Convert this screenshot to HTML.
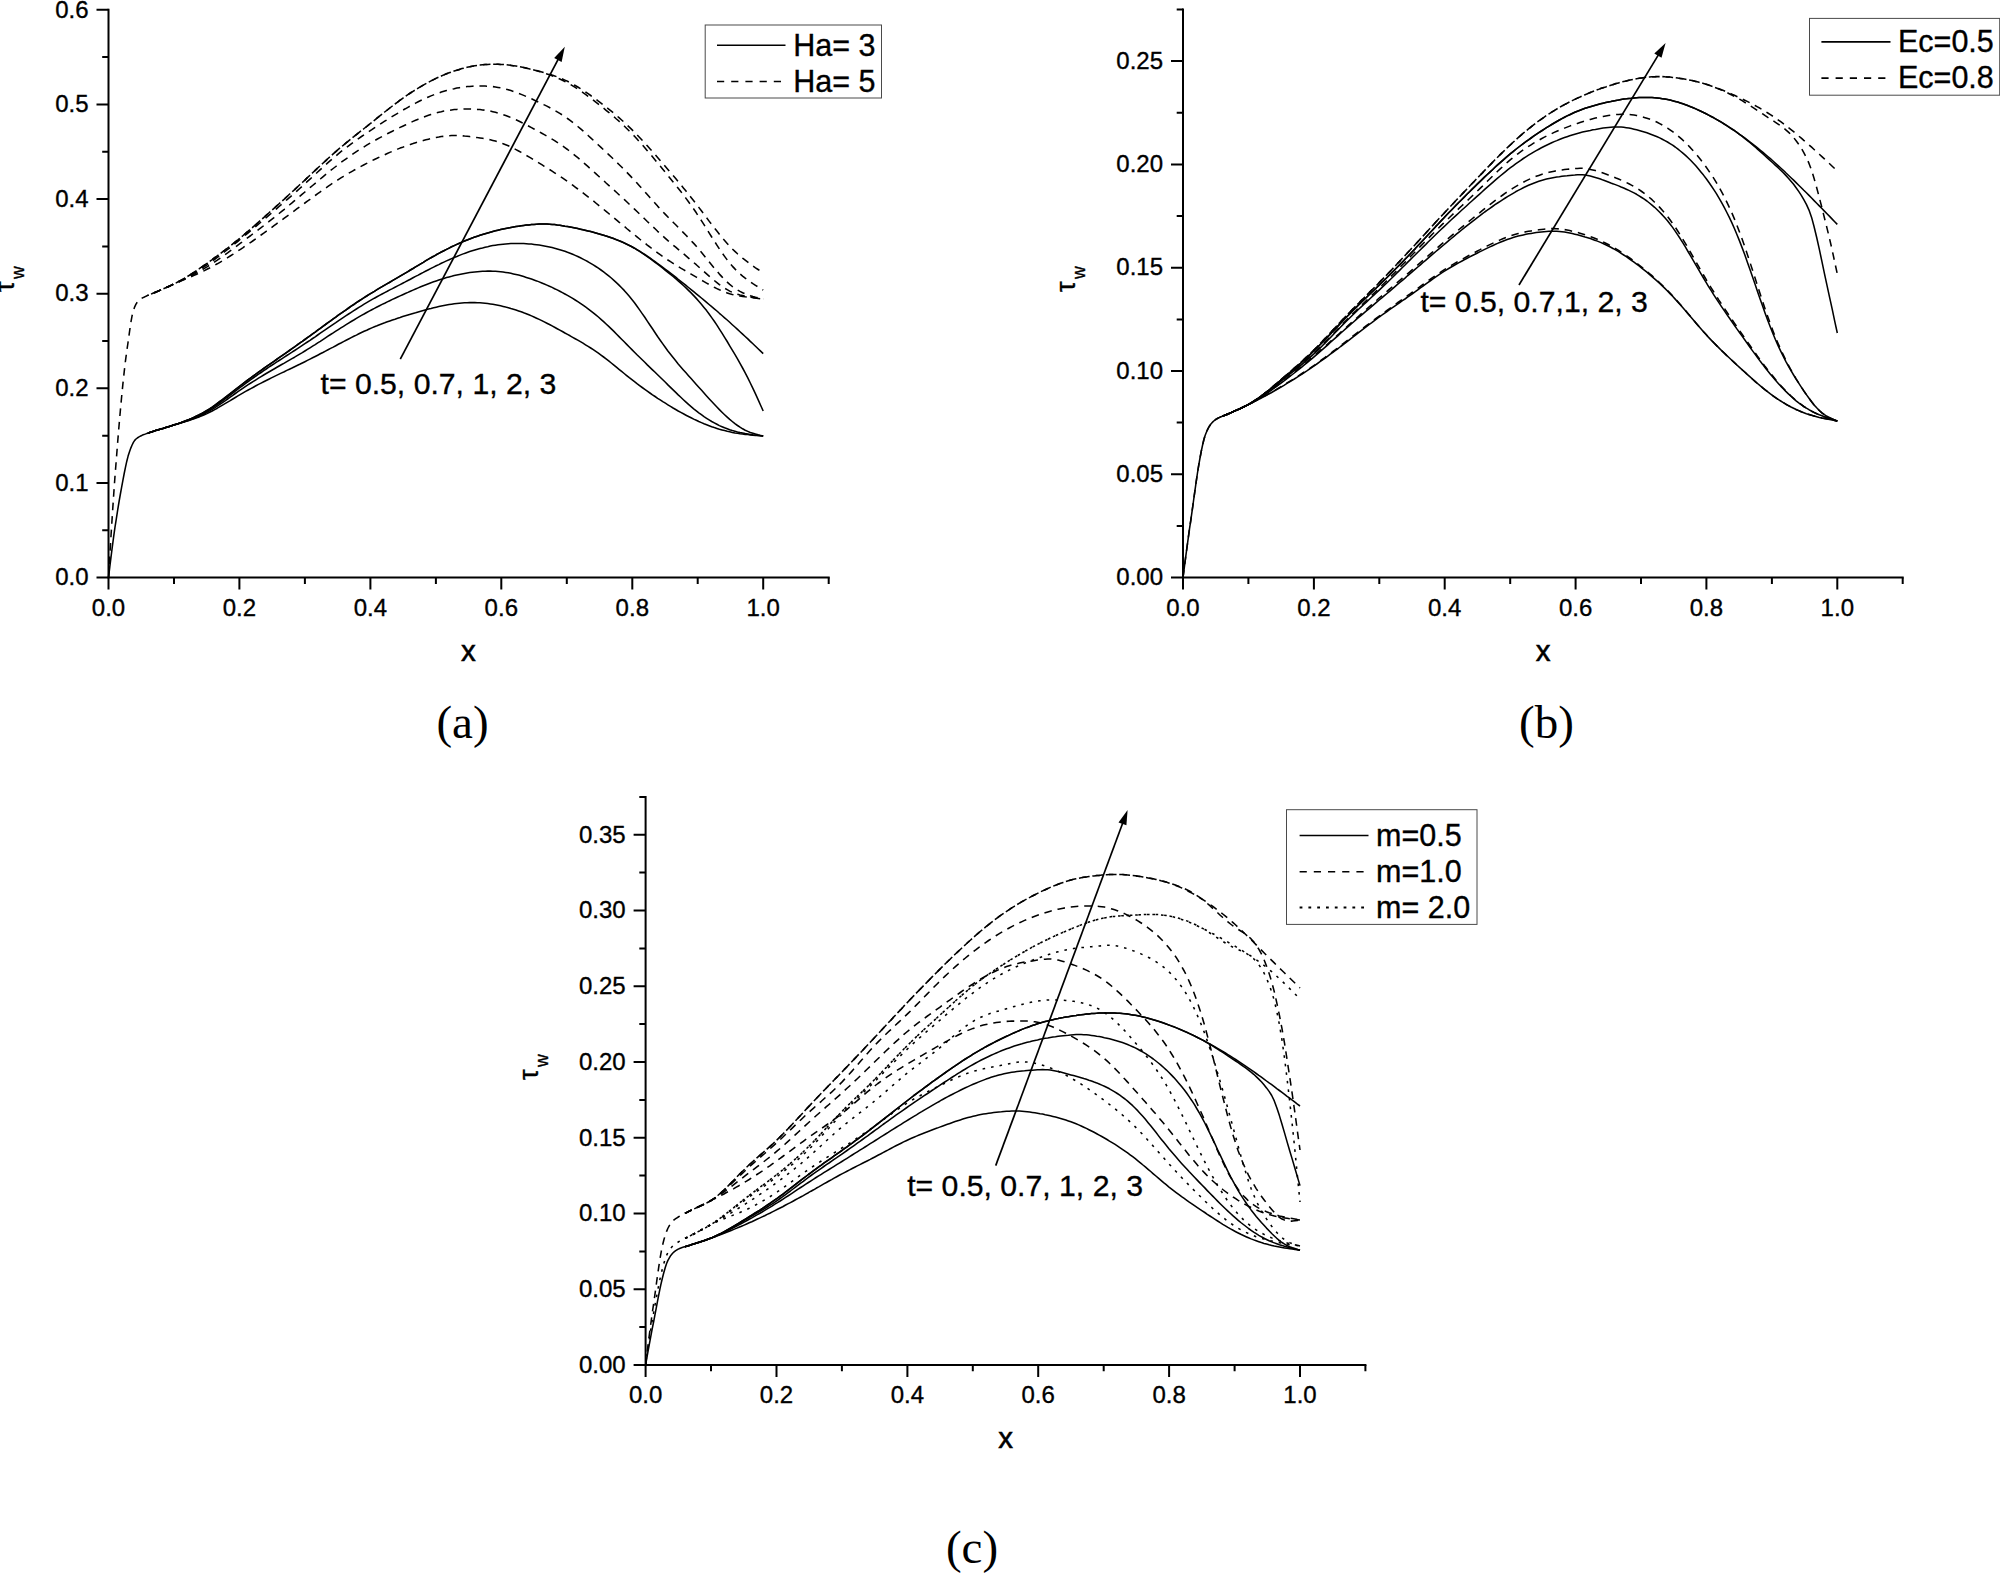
<!DOCTYPE html>
<html lang="en"><head><meta charset="utf-8"><title>Wall shear stress plots</title>
<style>html,body{margin:0;padding:0;background:#fff}body{width:2000px;height:1578px;overflow:hidden}svg{display:block}text{font-family:"Liberation Sans",Arial,sans-serif;fill:#000;stroke:#000;stroke-width:.35px}.tk text{font-size:24px}.lg{font-size:30.5px}.an{font-size:30.2px}.xl{font-size:29.5px;stroke-width:.55px}.yl{font-size:27.5px}.sub{font-size:17.5px}.cap{font-family:"Liberation Serif","Times New Roman",serif;font-size:47px;stroke-width:0}.cv path{fill:none;stroke:#000;stroke-width:1.55;stroke-linejoin:round}</style></head><body>
<svg width="2000" height="1578" viewBox="0 0 2000 1578">
<rect width="2000" height="1578" fill="#fff"/>
<g class="cv">
<path d="M108.5 577.6L109.8 566.8L111.1 556.3L112.4 546.2L113.7 536.4L115 527.1L116.4 518.3L117.7 509.9L119 502L120.3 494.5L121.6 487.3L122.9 480.3L124.2 473.5L125.5 467.1L126.8 461.2L128.1 456.1L129.5 451.7L130.8 448.1L132.1 445L133.4 442.4L134.7 440.4L136 439L137.3 438L138.6 437.1L139.9 436.4L141.2 435.7L142.5 435.1L143.9 434.6L145.2 434.1L146.5 433.6L147.8 433.2L150.4 432.3L152.9 431.4L155.5 430.6L158.1 429.8L160.7 429L163.2 428.3L165.8 427.5L168.4 426.7L171 425.9L173.5 425.1L176.1 424.4L178.7 423.6L181.3 422.8L183.8 422.1L186.4 421.3L189 420.5L191.6 419.6L194.1 418.8L196.7 417.8L199.3 416.9L201.9 415.8L204.4 414.7L207 413.6L209.6 412.3L212.2 411L214.7 409.6L217.3 408.2L219.9 406.7L222.5 405.2L225 403.7L227.6 402.1L230.2 400.6L232.8 399L235.3 397.5L237.9 395.9L240.5 394.4L243.1 392.9L245.6 391.4L248.2 390L250.8 388.6L253.4 387.2L255.9 385.8L258.5 384.4L261.1 383.1L263.7 381.8L266.2 380.5L268.8 379.2L271.4 377.9L274 376.6L276.5 375.4L279.1 374.1L281.7 372.9L284.3 371.7L286.8 370.4L289.4 369.2L292 368L294.6 366.7L297.1 365.5L299.7 364.3L302.3 363L304.9 361.7L307.4 360.4L310 359.1L312.6 357.8L315.2 356.5L317.7 355.2L320.3 353.8L322.9 352.5L325.5 351.1L328 349.8L330.6 348.4L333.2 347.1L335.8 345.7L338.3 344.3L340.9 343L343.5 341.6L346.1 340.3L348.6 339L351.2 337.6L353.8 336.3L356.4 335.1L358.9 333.8L361.5 332.5L364.1 331.3L366.7 330.2L369.2 329L371.8 327.9L374.4 326.8L377 325.8L379.5 324.7L382.1 323.7L384.7 322.8L387.3 321.8L389.8 320.9L392.4 320L395 319.2L397.6 318.3L400.1 317.5L402.7 316.6L405.3 315.8L407.9 315L410.4 314.2L413 313.4L415.6 312.7L418.2 311.9L420.7 311.2L423.3 310.5L425.9 309.8L428.5 309.1L431 308.5L433.6 307.8L436.2 307.2L438.8 306.6L441.3 306.1L443.9 305.6L446.5 305.1L449.1 304.6L451.6 304.2L454.2 303.8L456.8 303.5L459.4 303.2L461.9 303L464.5 302.8L467.1 302.7L469.7 302.6L472.2 302.6L474.8 302.6L477.4 302.7L480 302.8L482.5 303L485.1 303.3L487.7 303.6L490.3 303.9L492.8 304.3L495.4 304.8L498 305.3L500.6 305.8L503.1 306.4L505.7 307.1L508.3 307.7L510.9 308.5L513.4 309.2L516 310L518.6 310.9L521.2 311.8L523.7 312.8L526.3 313.7L528.9 314.8L531.5 315.9L534 317L536.6 318.2L539.2 319.4L541.8 320.6L544.3 321.9L546.9 323.2L549.5 324.5L552.1 325.9L554.6 327.3L557.2 328.7L559.8 330.1L562.4 331.5L564.9 333L567.5 334.4L570.1 335.8L572.7 337.3L575.2 338.7L577.8 340.2L580.4 341.7L583 343.2L585.5 344.8L588.1 346.4L590.7 348L593.3 349.7L595.8 351.4L598.4 353.2L601 355.1L603.6 357L606.1 358.9L608.7 360.9L611.3 363L613.9 365.1L616.4 367.2L619 369.3L621.6 371.4L624.2 373.5L626.7 375.6L629.3 377.7L631.9 379.7L634.5 381.7L637 383.7L639.6 385.6L642.2 387.5L644.8 389.4L647.3 391.2L649.9 393L652.5 394.8L655.1 396.5L657.6 398.3L660.2 399.9L662.8 401.6L665.4 403.2L667.9 404.8L670.5 406.4L673.1 408L675.7 409.5L678.2 411L680.8 412.4L683.4 413.8L686 415.2L688.5 416.5L691.1 417.8L693.7 419.1L696.3 420.3L698.8 421.5L701.4 422.6L704 423.7L706.6 424.7L709.1 425.7L711.7 426.7L714.3 427.6L716.9 428.4L719.4 429.2L722 429.9L724.6 430.6L727.2 431.3L729.7 431.8L732.3 432.4L734.9 432.9L737.5 433.3L740 433.7L742.6 434L745.2 434.4L747.8 434.6L750.3 434.9L752.9 435.2L755.5 435.4L758.1 435.6L760.6 435.8L763.2 436"/>
<path d="M147.8 433.2L150.4 432.3L152.9 431.4L155.5 430.6L158.1 429.8L160.7 429.1L163.2 428.3L165.8 427.5L168.4 426.7L171 425.9L173.5 425.1L176.1 424.3L178.7 423.6L181.3 422.7L183.8 421.9L186.4 421.1L189 420.2L191.6 419.3L194.1 418.3L196.7 417.2L199.3 416.1L201.9 414.9L204.4 413.7L207 412.3L209.6 410.9L212.2 409.4L214.7 407.8L217.3 406.1L219.9 404.4L222.5 402.6L225 400.8L227.6 399L230.2 397.2L232.8 395.3L235.3 393.5L237.9 391.7L240.5 389.9L243.1 388.1L245.6 386.4L248.2 384.7L250.8 383L253.4 381.4L255.9 379.8L258.5 378.2L261.1 376.6L263.7 375L266.2 373.5L268.8 372L271.4 370.5L274 369L276.5 367.5L279.1 366L281.7 364.5L284.3 363.1L286.8 361.6L289.4 360.1L292 358.6L294.6 357.2L297.1 355.7L299.7 354.1L302.3 352.6L304.9 351L307.4 349.4L310 347.8L312.6 346.2L315.2 344.6L317.7 342.9L320.3 341.3L322.9 339.6L325.5 337.9L328 336.2L330.6 334.5L333.2 332.9L335.8 331.2L338.3 329.6L340.9 327.9L343.5 326.3L346.1 324.7L348.6 323.1L351.2 321.5L353.8 320L356.4 318.4L358.9 316.9L361.5 315.4L364.1 314L366.7 312.5L369.2 311.1L371.8 309.7L374.4 308.4L377 307L379.5 305.7L382.1 304.4L384.7 303.2L387.3 301.9L389.8 300.7L392.4 299.4L395 298.2L397.6 297L400.1 295.9L402.7 294.7L405.3 293.5L407.9 292.4L410.4 291.2L413 290.1L415.6 289L418.2 287.9L420.7 286.8L423.3 285.7L425.9 284.7L428.5 283.7L431 282.7L433.6 281.8L436.2 280.9L438.8 280L441.3 279.2L443.9 278.4L446.5 277.6L449.1 276.9L451.6 276.3L454.2 275.6L456.8 275L459.4 274.5L461.9 274L464.5 273.5L467.1 273L469.7 272.6L472.2 272.3L474.8 272L477.4 271.7L480 271.5L482.5 271.3L485.1 271.2L487.7 271.1L490.3 271.1L492.8 271.2L495.4 271.3L498 271.5L500.6 271.7L503.1 272L505.7 272.4L508.3 272.8L510.9 273.3L513.4 273.9L516 274.5L518.6 275.1L521.2 275.8L523.7 276.6L526.3 277.4L528.9 278.2L531.5 279.1L534 280L536.6 280.9L539.2 281.9L541.8 283L544.3 284L546.9 285.1L549.5 286.3L552.1 287.4L554.6 288.7L557.2 289.9L559.8 291.2L562.4 292.6L564.9 294L567.5 295.4L570.1 296.9L572.7 298.4L575.2 300L577.8 301.7L580.4 303.4L583 305.1L585.5 306.9L588.1 308.8L590.7 310.8L593.3 312.8L595.8 314.9L598.4 317L601 319.3L603.6 321.6L606.1 324L608.7 326.4L611.3 328.9L613.9 331.4L616.4 334L619 336.6L621.6 339.2L624.2 341.8L626.7 344.4L629.3 347L631.9 349.6L634.5 352.2L637 354.8L639.6 357.3L642.2 359.8L644.8 362.3L647.3 364.9L649.9 367.4L652.5 369.9L655.1 372.3L657.6 374.8L660.2 377.3L662.8 379.8L665.4 382.3L667.9 384.9L670.5 387.4L673.1 389.9L675.7 392.4L678.2 394.9L680.8 397.3L683.4 399.7L686 402.1L688.5 404.4L691.1 406.6L693.7 408.8L696.3 410.8L698.8 412.8L701.4 414.7L704 416.6L706.6 418.3L709.1 419.9L711.7 421.5L714.3 422.9L716.9 424.3L719.4 425.6L722 426.7L724.6 427.8L727.2 428.8L729.7 429.8L732.3 430.6L734.9 431.3L737.5 432L740 432.6L742.6 433.1L745.2 433.6L747.8 434L750.3 434.4L752.9 434.8L755.5 435.1L758.1 435.4L760.6 435.7L763.2 436"/>
<path d="M147.8 433.2L150.4 432.3L152.9 431.4L155.5 430.6L158.1 429.9L160.7 429.1L163.2 428.4L165.8 427.6L168.4 426.8L171 426L173.5 425.1L176.1 424.3L178.7 423.5L181.3 422.6L183.8 421.7L186.4 420.8L189 419.8L191.6 418.8L194.1 417.8L196.7 416.6L199.3 415.4L201.9 414.1L204.4 412.8L207 411.3L209.6 409.8L212.2 408.1L214.7 406.4L217.3 404.7L219.9 402.8L222.5 400.9L225 399L227.6 397.1L230.2 395.1L232.8 393.1L235.3 391.1L237.9 389.2L240.5 387.2L243.1 385.3L245.6 383.4L248.2 381.5L250.8 379.7L253.4 377.8L255.9 376L258.5 374.2L261.1 372.5L263.7 370.7L266.2 369L268.8 367.2L271.4 365.5L274 363.8L276.5 362.1L279.1 360.5L281.7 358.8L284.3 357.1L286.8 355.5L289.4 353.8L292 352.2L294.6 350.5L297.1 348.8L299.7 347.1L302.3 345.4L304.9 343.7L307.4 342L310 340.3L312.6 338.5L315.2 336.8L317.7 335L320.3 333.2L322.9 331.4L325.5 329.7L328 327.9L330.6 326.1L333.2 324.3L335.8 322.6L338.3 320.8L340.9 319.1L343.5 317.4L346.1 315.7L348.6 314L351.2 312.3L353.8 310.6L356.4 309L358.9 307.4L361.5 305.8L364.1 304.2L366.7 302.7L369.2 301.2L371.8 299.7L374.4 298.2L377 296.8L379.5 295.4L382.1 294L384.7 292.6L387.3 291.3L389.8 289.9L392.4 288.6L395 287.2L397.6 285.9L400.1 284.6L402.7 283.2L405.3 281.9L407.9 280.5L410.4 279.2L413 277.8L415.6 276.4L418.2 275.1L420.7 273.7L423.3 272.4L425.9 271L428.5 269.7L431 268.4L433.6 267.1L436.2 265.8L438.8 264.6L441.3 263.3L443.9 262.1L446.5 260.9L449.1 259.8L451.6 258.6L454.2 257.5L456.8 256.5L459.4 255.4L461.9 254.4L464.5 253.4L467.1 252.5L469.7 251.6L472.2 250.8L474.8 250L477.4 249.2L480 248.5L482.5 247.9L485.1 247.2L487.7 246.7L490.3 246.1L492.8 245.6L495.4 245.2L498 244.8L500.6 244.5L503.1 244.2L505.7 244L508.3 243.8L510.9 243.6L513.4 243.5L516 243.5L518.6 243.5L521.2 243.5L523.7 243.6L526.3 243.7L528.9 243.9L531.5 244.1L534 244.4L536.6 244.7L539.2 245.1L541.8 245.5L544.3 245.9L546.9 246.4L549.5 247L552.1 247.6L554.6 248.2L557.2 248.9L559.8 249.7L562.4 250.5L564.9 251.3L567.5 252.3L570.1 253.2L572.7 254.3L575.2 255.4L577.8 256.5L580.4 257.8L583 259.1L585.5 260.4L588.1 261.8L590.7 263.3L593.3 264.9L595.8 266.5L598.4 268.2L601 270L603.6 271.9L606.1 273.8L608.7 275.9L611.3 278L613.9 280.3L616.4 282.6L619 285.1L621.6 287.7L624.2 290.4L626.7 293.3L629.3 296.3L631.9 299.5L634.5 302.8L637 306.3L639.6 309.9L642.2 313.6L644.8 317.3L647.3 321.1L649.9 325L652.5 328.8L655.1 332.7L657.6 336.5L660.2 340.2L662.8 343.9L665.4 347.5L667.9 351L670.5 354.3L673.1 357.6L675.7 360.8L678.2 363.9L680.8 366.9L683.4 369.9L686 372.8L688.5 375.7L691.1 378.6L693.7 381.5L696.3 384.4L698.8 387.2L701.4 390.1L704 393L706.6 395.9L709.1 398.7L711.7 401.5L714.3 404.3L716.9 407L719.4 409.6L722 412.2L724.6 414.7L727.2 417.1L729.7 419.4L732.3 421.5L734.9 423.6L737.5 425.5L740 427.2L742.6 428.8L745.2 430.2L747.8 431.4L750.3 432.5L752.9 433.3L755.5 434.1L758.1 434.8L760.6 435.4L763.2 436"/>
<path d="M147.8 433.2L150.4 432.3L152.9 431.4L155.5 430.6L158.1 429.9L160.7 429.1L163.2 428.4L165.8 427.6L168.4 426.8L171 426L173.5 425.1L176.1 424.3L178.7 423.4L181.3 422.5L183.8 421.5L186.4 420.5L189 419.5L191.6 418.4L194.1 417.3L196.7 416L199.3 414.8L201.9 413.4L204.4 412L207 410.4L209.6 408.8L212.2 407.1L214.7 405.3L217.3 403.4L219.9 401.5L222.5 399.6L225 397.6L227.6 395.6L230.2 393.6L232.8 391.5L235.3 389.5L237.9 387.5L240.5 385.5L243.1 383.5L245.6 381.6L248.2 379.7L250.8 377.8L253.4 375.9L255.9 374L258.5 372.1L261.1 370.3L263.7 368.5L266.2 366.7L268.8 364.9L271.4 363.1L274 361.3L276.5 359.5L279.1 357.7L281.7 355.9L284.3 354.1L286.8 352.3L289.4 350.5L292 348.7L294.6 346.9L297.1 345L299.7 343.2L302.3 341.4L304.9 339.5L307.4 337.7L310 335.8L312.6 333.9L315.2 332.1L317.7 330.2L320.3 328.3L322.9 326.4L325.5 324.5L328 322.6L330.6 320.8L333.2 318.9L335.8 317.1L338.3 315.2L340.9 313.4L343.5 311.6L346.1 309.8L348.6 308L351.2 306.2L353.8 304.5L356.4 302.7L358.9 301L361.5 299.3L364.1 297.7L366.7 296L369.2 294.4L371.8 292.8L374.4 291.3L377 289.7L379.5 288.2L382.1 286.7L384.7 285.1L387.3 283.6L389.8 282.2L392.4 280.7L395 279.2L397.6 277.7L400.1 276.2L402.7 274.6L405.3 273.1L407.9 271.6L410.4 270L413 268.5L415.6 266.9L418.2 265.3L420.7 263.8L423.3 262.3L425.9 260.7L428.5 259.2L431 257.7L433.6 256.3L436.2 254.8L438.8 253.4L441.3 252L443.9 250.7L446.5 249.4L449.1 248.1L451.6 246.8L454.2 245.6L456.8 244.4L459.4 243.2L461.9 242.1L464.5 241L467.1 240L469.7 239L472.2 238L474.8 237.1L477.4 236.2L480 235.3L482.5 234.5L485.1 233.7L487.7 232.9L490.3 232.2L492.8 231.5L495.4 230.8L498 230.2L500.6 229.6L503.1 229L505.7 228.4L508.3 227.9L510.9 227.4L513.4 227L516 226.6L518.6 226.2L521.2 225.8L523.7 225.4L526.3 225.1L528.9 224.9L531.5 224.6L534 224.4L536.6 224.2L539.2 224.1L541.8 224L544.3 224L546.9 224L549.5 224.2L552.1 224.4L554.6 224.6L557.2 225L559.8 225.3L562.4 225.7L564.9 226.2L567.5 226.6L570.1 227.1L572.7 227.6L575.2 228.1L577.8 228.6L580.4 229.2L583 229.8L585.5 230.4L588.1 231L590.7 231.6L593.3 232.3L595.8 233L598.4 233.7L601 234.4L603.6 235.2L606.1 236L608.7 236.8L611.3 237.7L613.9 238.6L616.4 239.6L619 240.6L621.6 241.7L624.2 242.9L626.7 244.1L629.3 245.4L631.9 246.8L634.5 248.2L637 249.8L639.6 251.4L642.2 253.1L644.8 254.8L647.3 256.6L649.9 258.4L652.5 260.3L655.1 262.3L657.6 264.2L660.2 266.2L662.8 268.2L665.4 270.3L667.9 272.3L670.5 274.4L673.1 276.5L675.7 278.7L678.2 280.9L680.8 283.2L683.4 285.5L686 287.9L688.5 290.4L691.1 292.9L693.7 295.6L696.3 298.4L698.8 301.2L701.4 304.2L704 307.4L706.6 310.6L709.1 314L711.7 317.6L714.3 321.3L716.9 325.1L719.4 329.1L722 333.1L724.6 337.3L727.2 341.5L729.7 345.8L732.3 350.1L734.9 354.4L737.5 358.8L740 363.3L742.6 368L745.2 372.8L747.8 377.8L750.3 383L752.9 388.4L755.5 393.9L758.1 399.6L760.6 405.3L763.2 411"/>
<path d="M147.8 433.2L150.4 432.3L152.9 431.4L155.5 430.6L158.1 429.9L160.7 429.1L163.2 428.4L165.8 427.6L168.4 426.8L171 426L173.5 425.1L176.1 424.3L178.7 423.4L181.3 422.5L183.8 421.5L186.4 420.5L189 419.5L191.6 418.4L194.1 417.3L196.7 416L199.3 414.8L201.9 413.4L204.4 412L207 410.4L209.6 408.8L212.2 407.1L214.7 405.3L217.3 403.4L219.9 401.5L222.5 399.6L225 397.6L227.6 395.6L230.2 393.6L232.8 391.5L235.3 389.5L237.9 387.5L240.5 385.5L243.1 383.5L245.6 381.6L248.2 379.7L250.8 377.8L253.4 375.9L255.9 374L258.5 372.1L261.1 370.3L263.7 368.5L266.2 366.7L268.8 364.9L271.4 363.1L274 361.3L276.5 359.5L279.1 357.7L281.7 355.9L284.3 354.1L286.8 352.3L289.4 350.5L292 348.7L294.6 346.9L297.1 345L299.7 343.2L302.3 341.4L304.9 339.5L307.4 337.7L310 335.8L312.6 333.9L315.2 332.1L317.7 330.2L320.3 328.3L322.9 326.4L325.5 324.5L328 322.6L330.6 320.8L333.2 318.9L335.8 317.1L338.3 315.2L340.9 313.4L343.5 311.6L346.1 309.8L348.6 308L351.2 306.2L353.8 304.5L356.4 302.7L358.9 301L361.5 299.3L364.1 297.7L366.7 296L369.2 294.4L371.8 292.8L374.4 291.3L377 289.7L379.5 288.2L382.1 286.7L384.7 285.1L387.3 283.6L389.8 282.2L392.4 280.7L395 279.2L397.6 277.7L400.1 276.2L402.7 274.6L405.3 273.1L407.9 271.6L410.4 270L413 268.5L415.6 266.9L418.2 265.3L420.7 263.8L423.3 262.3L425.9 260.7L428.5 259.2L431 257.7L433.6 256.3L436.2 254.8L438.8 253.4L441.3 252L443.9 250.7L446.5 249.4L449.1 248.1L451.6 246.8L454.2 245.6L456.8 244.4L459.4 243.2L461.9 242.1L464.5 241L467.1 240L469.7 239L472.2 238L474.8 237.1L477.4 236.2L480 235.3L482.5 234.5L485.1 233.7L487.7 232.9L490.3 232.2L492.8 231.5L495.4 230.8L498 230.2L500.6 229.6L503.1 229L505.7 228.4L508.3 227.9L510.9 227.4L513.4 227L516 226.6L518.6 226.2L521.2 225.8L523.7 225.4L526.3 225.1L528.9 224.9L531.5 224.6L534 224.4L536.6 224.2L539.2 224.1L541.8 224L544.3 224L546.9 224L549.5 224.2L552.1 224.4L554.6 224.6L557.2 225L559.8 225.3L562.4 225.7L564.9 226.2L567.5 226.6L570.1 227.1L572.7 227.6L575.2 228.1L577.8 228.6L580.4 229.2L583 229.8L585.5 230.3L588.1 231L590.7 231.6L593.3 232.3L595.8 233L598.4 233.7L601 234.4L603.6 235.2L606.1 236L608.7 236.9L611.3 237.8L613.9 238.7L616.4 239.7L619 240.7L621.6 241.8L624.2 243L626.7 244.2L629.3 245.5L631.9 246.8L634.5 248.2L637 249.7L639.6 251.2L642.2 252.8L644.8 254.5L647.3 256.2L649.9 258L652.5 259.8L655.1 261.6L657.6 263.5L660.2 265.4L662.8 267.3L665.4 269.3L667.9 271.2L670.5 273.2L673.1 275.2L675.7 277.2L678.2 279.3L680.8 281.3L683.4 283.3L686 285.4L688.5 287.5L691.1 289.6L693.7 291.7L696.3 293.8L698.8 295.9L701.4 298L704 300.2L706.6 302.3L709.1 304.5L711.7 306.7L714.3 308.8L716.9 311L719.4 313.3L722 315.5L724.6 317.8L727.2 320L729.7 322.3L732.3 324.7L734.9 327L737.5 329.4L740 331.7L742.6 334.1L745.2 336.5L747.8 338.9L750.3 341.4L752.9 343.8L755.5 346.2L758.1 348.7L760.6 351.1L763.2 353.6"/>
<path d="M108.5 577.6L109.8 555.5L111.1 534.3L112.4 514L113.7 494.6L115 476.1L116.4 458.5L117.7 441.8L119 426L120.3 411.1L121.6 397L122.9 383.9L124.2 371.8L125.5 360.6L126.8 350.9L128.1 342L129.5 331.8L130.8 322.8L132.1 315.7L133.4 310.7L134.7 306.8L136 304.1L137.3 302.1L138.6 300.6L139.9 299.6L141.2 298.7L142.5 297.9L143.9 297.3L145.2 296.6L146.5 296L147.8 295.4L150.4 294.4L152.9 293.3L155.5 292.2L158.1 291.1L160.7 290L163.2 288.8L165.8 287.6L168.4 286.5L171 285.3L173.5 284.2L176.1 283.1L178.7 282L181.3 280.9L183.8 279.8L186.4 278.7L189 277.6L191.6 276.5L194.1 275.4L196.7 274.2L199.3 273.1L201.9 271.9L204.4 270.6L207 269.3L209.6 268L212.2 266.7L214.7 265.2L217.3 263.8L219.9 262.3L222.5 260.8L225 259.2L227.6 257.6L230.2 256L232.8 254.4L235.3 252.7L237.9 251L240.5 249.3L243.1 247.6L245.6 245.8L248.2 244.1L250.8 242.3L253.4 240.5L255.9 238.7L258.5 236.8L261.1 235L263.7 233.2L266.2 231.3L268.8 229.4L271.4 227.6L274 225.7L276.5 223.8L279.1 221.9L281.7 220.1L284.3 218.2L286.8 216.3L289.4 214.4L292 212.5L294.6 210.6L297.1 208.7L299.7 206.8L302.3 204.9L304.9 203L307.4 201.1L310 199.3L312.6 197.4L315.2 195.5L317.7 193.7L320.3 191.8L322.9 190L325.5 188.2L328 186.4L330.6 184.6L333.2 182.9L335.8 181.2L338.3 179.6L340.9 177.9L343.5 176.3L346.1 174.8L348.6 173.3L351.2 171.8L353.8 170.3L356.4 168.9L358.9 167.5L361.5 166.1L364.1 164.7L366.7 163.4L369.2 162.1L371.8 160.8L374.4 159.5L377 158.3L379.5 157L382.1 155.8L384.7 154.7L387.3 153.5L389.8 152.4L392.4 151.3L395 150.2L397.6 149.1L400.1 148.1L402.7 147.2L405.3 146.2L407.9 145.3L410.4 144.4L413 143.6L415.6 142.7L418.2 142L420.7 141.2L423.3 140.5L425.9 139.8L428.5 139.2L431 138.6L433.6 138.1L436.2 137.5L438.8 137.1L441.3 136.6L443.9 136.3L446.5 136L449.1 135.7L451.6 135.6L454.2 135.5L456.8 135.5L459.4 135.6L461.9 135.8L464.5 136.1L467.1 136.3L469.7 136.6L472.2 136.9L474.8 137.2L477.4 137.6L480 137.9L482.5 138.3L485.1 138.8L487.7 139.3L490.3 139.8L492.8 140.4L495.4 141.1L498 141.9L500.6 142.7L503.1 143.7L505.7 144.7L508.3 145.8L510.9 147L513.4 148.3L516 149.6L518.6 151L521.2 152.4L523.7 153.9L526.3 155.4L528.9 156.9L531.5 158.4L534 160L536.6 161.5L539.2 163.1L541.8 164.7L544.3 166.3L546.9 167.9L549.5 169.5L552.1 171.2L554.6 172.8L557.2 174.5L559.8 176.2L562.4 177.9L564.9 179.7L567.5 181.5L570.1 183.3L572.7 185.2L575.2 187.1L577.8 189L580.4 190.9L583 192.9L585.5 194.9L588.1 196.9L590.7 198.9L593.3 200.9L595.8 203L598.4 205.1L601 207.2L603.6 209.3L606.1 211.4L608.7 213.5L611.3 215.6L613.9 217.8L616.4 219.9L619 222.1L621.6 224.2L624.2 226.3L626.7 228.5L629.3 230.6L631.9 232.7L634.5 234.8L637 236.9L639.6 239L642.2 241L644.8 243L647.3 245.1L649.9 247L652.5 249L655.1 250.9L657.6 252.8L660.2 254.7L662.8 256.5L665.4 258.2L667.9 260L670.5 261.7L673.1 263.3L675.7 264.9L678.2 266.5L680.8 268.1L683.4 269.6L686 271.1L688.5 272.6L691.1 274.1L693.7 275.6L696.3 277.1L698.8 278.6L701.4 280.1L704 281.6L706.6 283.1L709.1 284.5L711.7 285.9L714.3 287.3L716.9 288.6L719.4 289.8L722 290.9L724.6 292L727.2 292.9L729.7 293.8L732.3 294.5L734.9 295.1L737.5 295.6L740 296.1L742.6 296.4L745.2 296.8L747.8 297.1L750.3 297.4L752.9 297.8L755.5 298.1L758.1 298.4L760.6 298.7L763.2 299" stroke-dasharray="7.6 5.9"/>
<path d="M147.8 295.4L150.4 294.4L152.9 293.3L155.5 292.2L158.1 291.1L160.7 290L163.2 288.8L165.8 287.7L168.4 286.5L171 285.4L173.5 284.2L176.1 283L178.7 281.8L181.3 280.6L183.8 279.4L186.4 278.1L189 276.8L191.6 275.5L194.1 274.2L196.7 272.8L199.3 271.4L201.9 269.9L204.4 268.4L207 266.8L209.6 265.2L212.2 263.5L214.7 261.8L217.3 260.1L219.9 258.3L222.5 256.5L225 254.6L227.6 252.8L230.2 250.9L232.8 249L235.3 247.1L237.9 245.1L240.5 243.2L243.1 241.3L245.6 239.4L248.2 237.4L250.8 235.5L253.4 233.5L255.9 231.6L258.5 229.6L261.1 227.7L263.7 225.7L266.2 223.7L268.8 221.7L271.4 219.6L274 217.6L276.5 215.5L279.1 213.5L281.7 211.4L284.3 209.3L286.8 207.1L289.4 205L292 202.9L294.6 200.7L297.1 198.6L299.7 196.4L302.3 194.2L304.9 192L307.4 189.9L310 187.7L312.6 185.5L315.2 183.3L317.7 181.1L320.3 179L322.9 176.8L325.5 174.7L328 172.6L330.6 170.5L333.2 168.5L335.8 166.5L338.3 164.5L340.9 162.5L343.5 160.6L346.1 158.8L348.6 157L351.2 155.2L353.8 153.4L356.4 151.7L358.9 150L361.5 148.4L364.1 146.8L366.7 145.2L369.2 143.7L371.8 142.2L374.4 140.7L377 139.3L379.5 137.9L382.1 136.5L384.7 135.1L387.3 133.8L389.8 132.5L392.4 131.2L395 129.9L397.6 128.7L400.1 127.4L402.7 126.2L405.3 125L407.9 123.8L410.4 122.6L413 121.4L415.6 120.3L418.2 119.2L420.7 118.2L423.3 117.2L425.9 116.2L428.5 115.3L431 114.4L433.6 113.6L436.2 112.9L438.8 112.2L441.3 111.7L443.9 111.1L446.5 110.7L449.1 110.3L451.6 109.9L454.2 109.6L456.8 109.4L459.4 109.2L461.9 109.1L464.5 109L467.1 109L469.7 109L472.2 109.1L474.8 109.2L477.4 109.4L480 109.6L482.5 109.9L485.1 110.2L487.7 110.7L490.3 111.1L492.8 111.7L495.4 112.3L498 113L500.6 113.8L503.1 114.6L505.7 115.5L508.3 116.5L510.9 117.6L513.4 118.7L516 119.8L518.6 121L521.2 122.3L523.7 123.6L526.3 124.9L528.9 126.2L531.5 127.6L534 129L536.6 130.4L539.2 131.8L541.8 133.2L544.3 134.6L546.9 136.1L549.5 137.6L552.1 139.2L554.6 140.7L557.2 142.4L559.8 144.1L562.4 145.8L564.9 147.6L567.5 149.5L570.1 151.5L572.7 153.5L575.2 155.6L577.8 157.7L580.4 159.9L583 162.1L585.5 164.4L588.1 166.7L590.7 169L593.3 171.3L595.8 173.6L598.4 176L601 178.3L603.6 180.6L606.1 183L608.7 185.3L611.3 187.6L613.9 190L616.4 192.3L619 194.7L621.6 197L624.2 199.4L626.7 201.8L629.3 204.2L631.9 206.6L634.5 209.1L637 211.5L639.6 214L642.2 216.5L644.8 219L647.3 221.5L649.9 223.9L652.5 226.4L655.1 228.8L657.6 231.3L660.2 233.6L662.8 236L665.4 238.3L667.9 240.6L670.5 242.8L673.1 245.1L675.7 247.2L678.2 249.4L680.8 251.6L683.4 253.7L686 255.9L688.5 258.1L691.1 260.3L693.7 262.5L696.3 264.7L698.8 267L701.4 269.3L704 271.6L706.6 273.9L709.1 276.1L711.7 278.4L714.3 280.5L716.9 282.6L719.4 284.6L722 286.4L724.6 288.2L727.2 289.7L729.7 291.1L732.3 292.3L734.9 293.4L737.5 294.2L740 295L742.6 295.6L745.2 296.2L747.8 296.7L750.3 297.1L752.9 297.5L755.5 297.9L758.1 298.3L760.6 298.7L763.2 299" stroke-dasharray="7.6 5.9" stroke-dashoffset="6.82"/>
<path d="M147.8 295.4L150.4 294.4L152.9 293.3L155.5 292.2L158.1 291.1L160.7 290L163.2 288.9L165.8 287.8L168.4 286.6L171 285.4L173.5 284.2L176.1 283L178.7 281.7L181.3 280.3L183.8 279L186.4 277.6L189 276.1L191.6 274.6L194.1 273.1L196.7 271.5L199.3 269.9L201.9 268.2L204.4 266.5L207 264.8L209.6 263L212.2 261.2L214.7 259.3L217.3 257.4L219.9 255.5L222.5 253.5L225 251.5L227.6 249.5L230.2 247.5L232.8 245.4L235.3 243.3L237.9 241.3L240.5 239.1L243.1 237L245.6 234.9L248.2 232.8L250.8 230.6L253.4 228.5L255.9 226.3L258.5 224.1L261.1 222L263.7 219.8L266.2 217.6L268.8 215.4L271.4 213.2L274 211L276.5 208.8L279.1 206.5L281.7 204.3L284.3 202.1L286.8 199.8L289.4 197.6L292 195.3L294.6 193L297.1 190.8L299.7 188.5L302.3 186.1L304.9 183.8L307.4 181.4L310 179.1L312.6 176.7L315.2 174.3L317.7 172L320.3 169.6L322.9 167.3L325.5 164.9L328 162.7L330.6 160.4L333.2 158.2L335.8 156L338.3 153.8L340.9 151.7L343.5 149.7L346.1 147.7L348.6 145.8L351.2 143.8L353.8 142L356.4 140.1L358.9 138.3L361.5 136.5L364.1 134.7L366.7 133L369.2 131.3L371.8 129.6L374.4 127.8L377 126.2L379.5 124.5L382.1 122.8L384.7 121.2L387.3 119.6L389.8 118L392.4 116.4L395 114.8L397.6 113.3L400.1 111.7L402.7 110.2L405.3 108.8L407.9 107.3L410.4 105.9L413 104.5L415.6 103.1L418.2 101.8L420.7 100.5L423.3 99.3L425.9 98.1L428.5 97L431 95.9L433.6 94.9L436.2 93.9L438.8 93L441.3 92.1L443.9 91.3L446.5 90.5L449.1 89.9L451.6 89.2L454.2 88.7L456.8 88.1L459.4 87.7L461.9 87.3L464.5 86.9L467.1 86.6L469.7 86.4L472.2 86.2L474.8 86.1L477.4 86L480 86L482.5 86L485.1 86.1L487.7 86.2L490.3 86.4L492.8 86.6L495.4 87L498 87.4L500.6 87.8L503.1 88.4L505.7 89.1L508.3 89.8L510.9 90.6L513.4 91.4L516 92.4L518.6 93.3L521.2 94.4L523.7 95.4L526.3 96.5L528.9 97.7L531.5 98.8L534 100L536.6 101.2L539.2 102.4L541.8 103.6L544.3 104.9L546.9 106.1L549.5 107.5L552.1 108.9L554.6 110.3L557.2 111.8L559.8 113.4L562.4 115L564.9 116.7L567.5 118.5L570.1 120.4L572.7 122.4L575.2 124.4L577.8 126.5L580.4 128.7L583 130.9L585.5 133.2L588.1 135.5L590.7 137.8L593.3 140.2L595.8 142.6L598.4 145L601 147.4L603.6 149.8L606.1 152.2L608.7 154.6L611.3 157L613.9 159.5L616.4 162L619 164.5L621.6 167L624.2 169.6L626.7 172.2L629.3 174.9L631.9 177.6L634.5 180.3L637 183.1L639.6 186L642.2 188.8L644.8 191.7L647.3 194.6L649.9 197.5L652.5 200.4L655.1 203.2L657.6 206.1L660.2 208.9L662.8 211.7L665.4 214.4L667.9 217L670.5 219.7L673.1 222.3L675.7 224.8L678.2 227.4L680.8 230L683.4 232.6L686 235.2L688.5 237.9L691.1 240.6L693.7 243.4L696.3 246.3L698.8 249.3L701.4 252.3L704 255.5L706.6 258.6L709.1 261.8L711.7 265L714.3 268.1L716.9 271.1L719.4 274.1L722 276.9L724.6 279.6L727.2 282.1L729.7 284.4L732.3 286.5L734.9 288.3L737.5 290L740 291.4L742.6 292.7L745.2 293.8L747.8 294.8L750.3 295.7L752.9 296.5L755.5 297.2L758.1 297.8L760.6 298.4L763.2 299" stroke-dasharray="7.6 5.9" stroke-dashoffset="6.82"/>
<path d="M147.8 295.4L150.4 294.4L152.9 293.3L155.5 292.2L158.1 291.1L160.7 290L163.2 288.9L165.8 287.8L168.4 286.7L171 285.5L173.5 284.2L176.1 282.9L178.7 281.5L181.3 280.1L183.8 278.6L186.4 277.1L189 275.5L191.6 273.8L194.1 272.1L196.7 270.4L199.3 268.7L201.9 266.9L204.4 265.1L207 263.3L209.6 261.4L212.2 259.6L214.7 257.7L217.3 255.8L219.9 253.9L222.5 251.9L225 250L227.6 248L230.2 246L232.8 243.9L235.3 241.8L237.9 239.8L240.5 237.6L243.1 235.5L245.6 233.3L248.2 231.1L250.8 228.9L253.4 226.7L255.9 224.5L258.5 222.2L261.1 219.9L263.7 217.6L266.2 215.3L268.8 213L271.4 210.7L274 208.4L276.5 206.1L279.1 203.7L281.7 201.4L284.3 199.1L286.8 196.7L289.4 194.3L292 192L294.6 189.6L297.1 187.2L299.7 184.8L302.3 182.5L304.9 180.1L307.4 177.6L310 175.2L312.6 172.8L315.2 170.4L317.7 168L320.3 165.6L322.9 163.2L325.5 160.9L328 158.5L330.6 156.2L333.2 153.9L335.8 151.6L338.3 149.4L340.9 147.2L343.5 145.1L346.1 142.9L348.6 140.8L351.2 138.7L353.8 136.7L356.4 134.6L358.9 132.6L361.5 130.5L364.1 128.5L366.7 126.5L369.2 124.4L371.8 122.4L374.4 120.3L377 118.2L379.5 116.2L382.1 114.1L384.7 112L387.3 110L389.8 108L392.4 106L395 104L397.6 102.1L400.1 100.2L402.7 98.3L405.3 96.5L407.9 94.7L410.4 93L413 91.3L415.6 89.7L418.2 88.1L420.7 86.6L423.3 85.1L425.9 83.6L428.5 82.2L431 80.9L433.6 79.6L436.2 78.3L438.8 77.1L441.3 76L443.9 74.9L446.5 73.8L449.1 72.8L451.6 71.9L454.2 71L456.8 70.2L459.4 69.4L461.9 68.6L464.5 68L467.1 67.3L469.7 66.8L472.2 66.3L474.8 65.8L477.4 65.4L480 65.1L482.5 64.8L485.1 64.6L487.7 64.4L490.3 64.3L492.8 64.2L495.4 64.2L498 64.3L500.6 64.4L503.1 64.5L505.7 64.7L508.3 65L510.9 65.3L513.4 65.7L516 66.1L518.6 66.5L521.2 67L523.7 67.5L526.3 68.1L528.9 68.7L531.5 69.3L534 70L536.6 70.7L539.2 71.4L541.8 72.2L544.3 73L546.9 73.9L549.5 74.8L552.1 75.7L554.6 76.8L557.2 77.9L559.8 79L562.4 80.2L564.9 81.5L567.5 82.9L570.1 84.3L572.7 85.9L575.2 87.4L577.8 89.1L580.4 90.8L583 92.6L585.5 94.4L588.1 96.3L590.7 98.2L593.3 100.1L595.8 102.1L598.4 104.1L601 106.1L603.6 108.2L606.1 110.3L608.7 112.4L611.3 114.5L613.9 116.7L616.4 119L619 121.2L621.6 123.6L624.2 126L626.7 128.5L629.3 131L631.9 133.6L634.5 136.3L637 139.1L639.6 141.9L642.2 144.8L644.8 147.7L647.3 150.7L649.9 153.7L652.5 156.8L655.1 159.9L657.6 163L660.2 166.1L662.8 169.3L665.4 172.4L667.9 175.6L670.5 178.7L673.1 181.9L675.7 185.1L678.2 188.3L680.8 191.6L683.4 195L686 198.4L688.5 201.8L691.1 205.4L693.7 209L696.3 212.8L698.8 216.7L701.4 220.6L704 224.7L706.6 228.8L709.1 232.9L711.7 237L714.3 241L716.9 245.1L719.4 249L722 252.8L724.6 256.4L727.2 259.9L729.7 263.1L732.3 266.1L734.9 268.9L737.5 271.5L740 273.9L742.6 276.1L745.2 278.2L747.8 280.1L750.3 281.9L752.9 283.7L755.5 285.3L758.1 286.9L760.6 288.5L763.2 290" stroke-dasharray="7.6 5.9" stroke-dashoffset="10.02"/>
<path d="M147.8 295.4L150.4 294.4L152.9 293.3L155.5 292.2L158.1 291.1L160.7 290L163.2 288.9L165.8 287.8L168.4 286.7L171 285.5L173.5 284.2L176.1 282.9L178.7 281.5L181.3 280.1L183.8 278.6L186.4 277.1L189 275.5L191.6 273.8L194.1 272.1L196.7 270.4L199.3 268.7L201.9 266.9L204.4 265.1L207 263.3L209.6 261.4L212.2 259.6L214.7 257.7L217.3 255.8L219.9 253.9L222.5 251.9L225 250L227.6 248L230.2 246L232.8 243.9L235.3 241.8L237.9 239.8L240.5 237.6L243.1 235.5L245.6 233.3L248.2 231.1L250.8 228.9L253.4 226.7L255.9 224.5L258.5 222.2L261.1 219.9L263.7 217.6L266.2 215.3L268.8 213L271.4 210.7L274 208.4L276.5 206.1L279.1 203.7L281.7 201.4L284.3 199.1L286.8 196.7L289.4 194.3L292 192L294.6 189.6L297.1 187.2L299.7 184.8L302.3 182.5L304.9 180.1L307.4 177.6L310 175.2L312.6 172.8L315.2 170.4L317.7 168L320.3 165.6L322.9 163.2L325.5 160.9L328 158.5L330.6 156.2L333.2 153.9L335.8 151.6L338.3 149.4L340.9 147.2L343.5 145.1L346.1 142.9L348.6 140.8L351.2 138.7L353.8 136.7L356.4 134.6L358.9 132.6L361.5 130.5L364.1 128.5L366.7 126.5L369.2 124.4L371.8 122.4L374.4 120.3L377 118.2L379.5 116.2L382.1 114.1L384.7 112L387.3 110L389.8 108L392.4 106L395 104L397.6 102.1L400.1 100.2L402.7 98.3L405.3 96.5L407.9 94.7L410.4 93L413 91.3L415.6 89.7L418.2 88.1L420.7 86.6L423.3 85.1L425.9 83.6L428.5 82.2L431 80.9L433.6 79.6L436.2 78.3L438.8 77.1L441.3 76L443.9 74.9L446.5 73.8L449.1 72.8L451.6 71.9L454.2 71L456.8 70.2L459.4 69.4L461.9 68.6L464.5 68L467.1 67.3L469.7 66.8L472.2 66.3L474.8 65.8L477.4 65.4L480 65.1L482.5 64.8L485.1 64.6L487.7 64.4L490.3 64.3L492.8 64.2L495.4 64.2L498 64.3L500.6 64.4L503.1 64.5L505.7 64.7L508.3 65L510.9 65.4L513.4 65.7L516 66.1L518.6 66.6L521.2 67.1L523.7 67.6L526.3 68.2L528.9 68.8L531.5 69.4L534 70L536.6 70.6L539.2 71.3L541.8 72L544.3 72.7L546.9 73.4L549.5 74.2L552.1 75.1L554.6 75.9L557.2 76.9L559.8 77.9L562.4 79L564.9 80.1L567.5 81.3L570.1 82.7L572.7 84L575.2 85.5L577.8 87L580.4 88.6L583 90.3L585.5 92L588.1 93.7L590.7 95.5L593.3 97.4L595.8 99.2L598.4 101.2L601 103.1L603.6 105.1L606.1 107.1L608.7 109.1L611.3 111.2L613.9 113.3L616.4 115.5L619 117.7L621.6 120L624.2 122.3L626.7 124.7L629.3 127.1L631.9 129.6L634.5 132.2L637 134.8L639.6 137.5L642.2 140.2L644.8 143L647.3 145.8L649.9 148.7L652.5 151.6L655.1 154.5L657.6 157.4L660.2 160.4L662.8 163.4L665.4 166.4L667.9 169.4L670.5 172.5L673.1 175.5L675.7 178.6L678.2 181.7L680.8 184.8L683.4 187.9L686 191.1L688.5 194.3L691.1 197.5L693.7 200.8L696.3 204.1L698.8 207.4L701.4 210.8L704 214.2L706.6 217.7L709.1 221.1L711.7 224.5L714.3 227.8L716.9 231.1L719.4 234.3L722 237.5L724.6 240.5L727.2 243.4L729.7 246.2L732.3 248.9L734.9 251.4L737.5 253.8L740 256L742.6 258.2L745.2 260.2L747.8 262.2L750.3 264.1L752.9 266L755.5 267.8L758.1 269.5L760.6 271.3L763.2 273" stroke-dasharray="7.6 5.9" stroke-dashoffset="6.82"/>
</g>
<g fill="none" stroke="#000" stroke-width="2"><path d="M108.5 8.8 V577.6 H829.7" /><path d="M108.5 577.6v12M174 577.6v6.3M239.4 577.6v12M304.9 577.6v6.3M370.4 577.6v12M435.9 577.6v6.3M501.3 577.6v12M566.8 577.6v6.3M632.3 577.6v12M697.7 577.6v6.3M763.2 577.6v12M828.7 577.6v6.3M108.5 577.6h-12M108.5 530.3h-6.3M108.5 483h-12M108.5 435.7h-6.3M108.5 388.3h-12M108.5 341h-6.3M108.5 293.7h-12M108.5 246.4h-6.3M108.5 199.1h-12M108.5 151.8h-6.3M108.5 104.5h-12M108.5 57.1h-6.3M108.5 9.8h-12"/></g>
<g class="tk"><text x="108.5" y="615.8" text-anchor="middle">0.0</text><text x="239.4" y="615.8" text-anchor="middle">0.2</text><text x="370.4" y="615.8" text-anchor="middle">0.4</text><text x="501.3" y="615.8" text-anchor="middle">0.6</text><text x="632.3" y="615.8" text-anchor="middle">0.8</text><text x="763.2" y="615.8" text-anchor="middle">1.0</text><text x="88.5" y="585.3" text-anchor="end">0.0</text><text x="88.5" y="490.7" text-anchor="end">0.1</text><text x="88.5" y="396" text-anchor="end">0.2</text><text x="88.5" y="301.4" text-anchor="end">0.3</text><text x="88.5" y="206.8" text-anchor="end">0.4</text><text x="88.5" y="112.2" text-anchor="end">0.5</text><text x="88.5" y="17.5" text-anchor="end">0.6</text></g>
<path d="M400.3 359.2L558.8 58.1" fill="none" stroke="#000" stroke-width="1.7"/>
<path d="M564.8 46.8L561.6 61.9L554.2 57.9Z" fill="#000"/>
<text class="an" x="320.5" y="393.8">t= 0.5, 0.7, 1, 2, 3</text>
<text class="xl" x="468.3" y="661" text-anchor="middle">x</text>
<text class="cap" x="462.5" y="738" text-anchor="middle">(a)</text>
<text class="yl" transform="translate(14 292.3) rotate(-90)">&#964;</text>
<text class="sub" transform="translate(24.2 279) rotate(-90)">w</text>
<rect x="705.2" y="25" width="176.3" height="73" fill="#fff" stroke="#4a4a4a" stroke-width="1"/>
<path d="M717 45.2H785.5" fill="none" stroke="#000" stroke-width="1.6"/>
<text class="lg" x="793.2" y="55.5">Ha= 3</text>
<path d="M717 81.5H781" fill="none" stroke="#000" stroke-width="1.6" stroke-dasharray="7.2 7"/>
<text class="lg" x="793.2" y="91.8">Ha= 5</text>
<g class="cv">
<path d="M1183 577.6L1184.3 567.6L1185.6 557.7L1186.9 548L1188.2 538.4L1189.5 528.9L1190.9 519.6L1192.2 510.4L1193.5 501L1194.8 491.6L1196.1 482.3L1197.4 473.5L1198.7 465.3L1200 458L1201.3 451.2L1202.6 445L1203.9 439.5L1205.2 435.2L1206.6 431.8L1207.9 428.9L1209.2 426.5L1210.5 424.6L1211.8 423L1213.1 421.6L1214.4 420.5L1215.7 419.5L1217 418.7L1218.3 418L1219.6 417.4L1220.9 416.8L1222.3 416.3L1224.8 415.3L1227.4 414.2L1230 413.1L1232.6 411.9L1235.1 410.7L1237.7 409.5L1240.3 408.4L1242.8 407.2L1245.4 405.9L1248 404.7L1250.6 403.5L1253.1 402.2L1255.7 400.9L1258.3 399.6L1260.9 398.3L1263.4 396.9L1266 395.5L1268.6 394.1L1271.2 392.7L1273.7 391.3L1276.3 389.8L1278.9 388.3L1281.4 386.8L1284 385.3L1286.6 383.7L1289.2 382.2L1291.7 380.6L1294.3 379L1296.9 377.3L1299.5 375.7L1302 374L1304.6 372.3L1307.2 370.6L1309.8 368.8L1312.3 367.1L1314.9 365.3L1317.5 363.5L1320 361.7L1322.6 359.8L1325.2 358L1327.8 356.1L1330.3 354.2L1332.9 352.3L1335.5 350.4L1338.1 348.5L1340.6 346.5L1343.2 344.6L1345.8 342.6L1348.4 340.6L1350.9 338.6L1353.5 336.7L1356.1 334.7L1358.6 332.7L1361.2 330.7L1363.8 328.7L1366.4 326.7L1368.9 324.7L1371.5 322.8L1374.1 320.8L1376.7 318.9L1379.2 317L1381.8 315.2L1384.4 313.3L1387 311.5L1389.5 309.7L1392.1 307.9L1394.7 306.1L1397.2 304.3L1399.8 302.5L1402.4 300.7L1405 299L1407.5 297.2L1410.1 295.3L1412.7 293.5L1415.3 291.7L1417.8 289.8L1420.4 287.9L1423 286.1L1425.6 284.2L1428.1 282.4L1430.7 280.5L1433.3 278.7L1435.8 276.9L1438.4 275.1L1441 273.4L1443.6 271.7L1446.1 270.1L1448.7 268.5L1451.3 267L1453.9 265.5L1456.4 264L1459 262.6L1461.6 261.2L1464.2 259.8L1466.7 258.5L1469.3 257.1L1471.9 255.8L1474.5 254.5L1477 253.2L1479.6 251.9L1482.2 250.6L1484.7 249.4L1487.3 248.1L1489.9 246.9L1492.5 245.7L1495 244.5L1497.6 243.4L1500.2 242.3L1502.8 241.2L1505.3 240.2L1507.9 239.3L1510.5 238.4L1513.1 237.6L1515.6 236.8L1518.2 236.1L1520.8 235.5L1523.3 234.9L1525.9 234.3L1528.5 233.8L1531.1 233.4L1533.6 233L1536.2 232.6L1538.8 232.3L1541.4 232L1543.9 231.7L1546.5 231.5L1549.1 231.3L1551.7 231.2L1554.2 231.2L1556.8 231.3L1559.4 231.5L1561.9 231.8L1564.5 232.1L1567.1 232.6L1569.7 233.1L1572.2 233.6L1574.8 234.2L1577.4 234.8L1580 235.5L1582.5 236.2L1585.1 237L1587.7 237.7L1590.3 238.6L1592.8 239.5L1595.4 240.4L1598 241.4L1600.5 242.4L1603.1 243.5L1605.7 244.7L1608.3 246L1610.8 247.3L1613.4 248.7L1616 250.2L1618.6 251.7L1621.1 253.3L1623.7 255L1626.3 256.7L1628.9 258.5L1631.4 260.3L1634 262.2L1636.6 264.1L1639.1 266L1641.7 268.1L1644.3 270.1L1646.9 272.2L1649.4 274.4L1652 276.6L1654.6 278.8L1657.2 281.1L1659.7 283.5L1662.3 285.9L1664.9 288.4L1667.5 291L1670 293.6L1672.6 296.3L1675.2 299.1L1677.7 301.9L1680.3 304.8L1682.9 307.8L1685.5 310.8L1688 313.8L1690.6 316.8L1693.2 319.8L1695.8 322.9L1698.3 325.8L1700.9 328.8L1703.5 331.7L1706.1 334.6L1708.6 337.4L1711.2 340.1L1713.8 342.8L1716.4 345.4L1718.9 347.9L1721.5 350.5L1724.1 352.9L1726.6 355.4L1729.2 357.8L1731.8 360.2L1734.4 362.6L1736.9 365L1739.5 367.3L1742.1 369.7L1744.7 372L1747.2 374.4L1749.8 376.7L1752.4 379L1755 381.3L1757.5 383.5L1760.1 385.7L1762.7 387.8L1765.2 389.9L1767.8 391.9L1770.4 393.9L1773 395.8L1775.5 397.6L1778.1 399.4L1780.7 401L1783.3 402.6L1785.8 404.1L1788.4 405.6L1791 407L1793.6 408.3L1796.1 409.5L1798.7 410.6L1801.3 411.7L1803.8 412.7L1806.4 413.7L1809 414.5L1811.6 415.3L1814.1 416L1816.7 416.7L1819.3 417.4L1821.9 418L1824.4 418.5L1827 419.1L1829.6 419.6L1832.2 420L1834.7 420.5L1837.3 421"/>
<path d="M1222.3 416.3L1224.8 415.3L1227.4 414.2L1230 413.1L1232.6 411.9L1235.1 410.8L1237.7 409.6L1240.3 408.5L1242.8 407.3L1245.4 406L1248 404.7L1250.6 403.4L1253.1 401.9L1255.7 400.4L1258.3 398.8L1260.9 397.2L1263.4 395.5L1266 393.8L1268.6 392.1L1271.2 390.3L1273.7 388.4L1276.3 386.6L1278.9 384.7L1281.4 382.8L1284 380.9L1286.6 378.9L1289.2 376.9L1291.7 375L1294.3 373L1296.9 370.9L1299.5 368.9L1302 366.8L1304.6 364.7L1307.2 362.6L1309.8 360.5L1312.3 358.3L1314.9 356.1L1317.5 353.9L1320 351.6L1322.6 349.4L1325.2 347.1L1327.8 344.8L1330.3 342.5L1332.9 340.2L1335.5 337.9L1338.1 335.6L1340.6 333.3L1343.2 331L1345.8 328.7L1348.4 326.4L1350.9 324.2L1353.5 322L1356.1 319.7L1358.6 317.5L1361.2 315.3L1363.8 313.1L1366.4 310.9L1368.9 308.8L1371.5 306.6L1374.1 304.4L1376.7 302.2L1379.2 300L1381.8 297.9L1384.4 295.7L1387 293.5L1389.5 291.3L1392.1 289.1L1394.7 286.9L1397.2 284.7L1399.8 282.5L1402.4 280.3L1405 278.1L1407.5 275.8L1410.1 273.6L1412.7 271.4L1415.3 269.2L1417.8 267L1420.4 264.8L1423 262.5L1425.6 260.3L1428.1 258.1L1430.7 255.9L1433.3 253.7L1435.8 251.5L1438.4 249.3L1441 247.1L1443.6 245L1446.1 242.8L1448.7 240.6L1451.3 238.5L1453.9 236.3L1456.4 234.2L1459 232.1L1461.6 230L1464.2 227.9L1466.7 225.9L1469.3 223.8L1471.9 221.8L1474.5 219.8L1477 217.8L1479.6 215.9L1482.2 213.9L1484.7 212L1487.3 210.2L1489.9 208.3L1492.5 206.5L1495 204.7L1497.6 203L1500.2 201.3L1502.8 199.6L1505.3 198L1507.9 196.4L1510.5 194.8L1513.1 193.3L1515.6 191.8L1518.2 190.4L1520.8 189.1L1523.3 187.8L1525.9 186.5L1528.5 185.3L1531.1 184.2L1533.6 183.2L1536.2 182.2L1538.8 181.3L1541.4 180.4L1543.9 179.7L1546.5 179L1549.1 178.4L1551.7 177.9L1554.2 177.4L1556.8 177L1559.4 176.7L1561.9 176.3L1564.5 176L1567.1 175.8L1569.7 175.5L1572.2 175.3L1574.8 175.1L1577.4 174.8L1580 174.8L1582.5 174.8L1585.1 175.1L1587.7 175.5L1590.3 176L1592.8 176.7L1595.4 177.4L1598 178.2L1600.5 179.1L1603.1 180.1L1605.7 181L1608.3 182L1610.8 183L1613.4 183.9L1616 184.9L1618.6 185.9L1621.1 187L1623.7 188L1626.3 189.2L1628.9 190.4L1631.4 191.6L1634 192.9L1636.6 194.3L1639.1 195.8L1641.7 197.5L1644.3 199.2L1646.9 201L1649.4 203L1652 205.1L1654.6 207.3L1657.2 209.7L1659.7 212.2L1662.3 214.9L1664.9 217.8L1667.5 220.8L1670 224L1672.6 227.4L1675.2 231.1L1677.7 234.9L1680.3 238.8L1682.9 242.9L1685.5 247.2L1688 251.5L1690.6 255.9L1693.2 260.3L1695.8 264.8L1698.3 269.2L1700.9 273.7L1703.5 278L1706.1 282.4L1708.6 286.6L1711.2 290.7L1713.8 294.8L1716.4 298.8L1718.9 302.7L1721.5 306.6L1724.1 310.4L1726.6 314.1L1729.2 317.8L1731.8 321.5L1734.4 325.2L1736.9 328.9L1739.5 332.5L1742.1 336.1L1744.7 339.8L1747.2 343.4L1749.8 347L1752.4 350.6L1755 354.1L1757.5 357.6L1760.1 361.1L1762.7 364.4L1765.2 367.8L1767.8 371L1770.4 374.2L1773 377.3L1775.5 380.3L1778.1 383.2L1780.7 386.1L1783.3 388.8L1785.8 391.4L1788.4 393.9L1791 396.3L1793.6 398.6L1796.1 400.8L1798.7 402.8L1801.3 404.7L1803.8 406.5L1806.4 408.2L1809 409.7L1811.6 411.1L1814.1 412.4L1816.7 413.6L1819.3 414.7L1821.9 415.7L1824.4 416.7L1827 417.6L1829.6 418.5L1832.2 419.4L1834.7 420.2L1837.3 421"/>
<path d="M1222.3 416.3L1224.8 415.3L1227.4 414.2L1230 413.1L1232.6 411.9L1235.1 410.8L1237.7 409.7L1240.3 408.6L1242.8 407.4L1245.4 406.1L1248 404.7L1250.6 403.3L1253.1 401.7L1255.7 400.1L1258.3 398.4L1260.9 396.6L1263.4 394.7L1266 392.8L1268.6 390.9L1271.2 388.9L1273.7 386.9L1276.3 384.8L1278.9 382.8L1281.4 380.8L1284 378.7L1286.6 376.7L1289.2 374.7L1291.7 372.7L1294.3 370.6L1296.9 368.6L1299.5 366.5L1302 364.4L1304.6 362.2L1307.2 360L1309.8 357.7L1312.3 355.4L1314.9 353L1317.5 350.6L1320 348.1L1322.6 345.5L1325.2 342.9L1327.8 340.3L1330.3 337.7L1332.9 335L1335.5 332.3L1338.1 329.7L1340.6 327L1343.2 324.4L1345.8 321.8L1348.4 319.2L1350.9 316.7L1353.5 314.2L1356.1 311.8L1358.6 309.3L1361.2 306.9L1363.8 304.5L1366.4 302.1L1368.9 299.7L1371.5 297.3L1374.1 294.9L1376.7 292.5L1379.2 290.1L1381.8 287.6L1384.4 285.1L1387 282.7L1389.5 280.2L1392.1 277.7L1394.7 275.1L1397.2 272.6L1399.8 270.1L1402.4 267.5L1405 265L1407.5 262.4L1410.1 259.9L1412.7 257.3L1415.3 254.8L1417.8 252.2L1420.4 249.7L1423 247.1L1425.6 244.6L1428.1 242L1430.7 239.5L1433.3 237L1435.8 234.5L1438.4 232L1441 229.5L1443.6 227.1L1446.1 224.7L1448.7 222.2L1451.3 219.8L1453.9 217.4L1456.4 215.1L1459 212.7L1461.6 210.3L1464.2 208L1466.7 205.7L1469.3 203.3L1471.9 201L1474.5 198.7L1477 196.4L1479.6 194.1L1482.2 191.7L1484.7 189.4L1487.3 187.1L1489.9 184.9L1492.5 182.6L1495 180.4L1497.6 178.2L1500.2 176L1502.8 173.9L1505.3 171.8L1507.9 169.7L1510.5 167.7L1513.1 165.8L1515.6 163.9L1518.2 162.1L1520.8 160.3L1523.3 158.5L1525.9 156.8L1528.5 155.2L1531.1 153.6L1533.6 152.1L1536.2 150.6L1538.8 149.2L1541.4 147.8L1543.9 146.5L1546.5 145.2L1549.1 144L1551.7 142.8L1554.2 141.6L1556.8 140.6L1559.4 139.5L1561.9 138.5L1564.5 137.6L1567.1 136.7L1569.7 135.8L1572.2 135L1574.8 134.2L1577.4 133.5L1580 132.8L1582.5 132.1L1585.1 131.5L1587.7 130.9L1590.3 130.4L1592.8 129.8L1595.4 129.4L1598 128.9L1600.5 128.5L1603.1 128.1L1605.7 127.8L1608.3 127.5L1610.8 127.2L1613.4 127L1616 126.9L1618.6 127L1621.1 127.1L1623.7 127.3L1626.3 127.7L1628.9 128.1L1631.4 128.6L1634 129.2L1636.6 129.8L1639.1 130.5L1641.7 131.2L1644.3 132L1646.9 132.8L1649.4 133.7L1652 134.7L1654.6 135.7L1657.2 136.8L1659.7 137.9L1662.3 139.2L1664.9 140.6L1667.5 142L1670 143.6L1672.6 145.2L1675.2 147L1677.7 148.9L1680.3 151L1682.9 153.1L1685.5 155.4L1688 157.8L1690.6 160.3L1693.2 163L1695.8 165.8L1698.3 168.8L1700.9 171.9L1703.5 175.1L1706.1 178.5L1708.6 182L1711.2 185.7L1713.8 189.6L1716.4 193.6L1718.9 197.9L1721.5 202.4L1724.1 207.1L1726.6 212L1729.2 217.2L1731.8 222.7L1734.4 228.5L1736.9 234.5L1739.5 240.9L1742.1 247.6L1744.7 254.5L1747.2 261.7L1749.8 269.1L1752.4 276.5L1755 284L1757.5 291.5L1760.1 299L1762.7 306.3L1765.2 313.5L1767.8 320.5L1770.4 327.3L1773 333.7L1775.5 339.8L1778.1 345.6L1780.7 351.1L1783.3 356.3L1785.8 361.3L1788.4 366.1L1791 370.6L1793.6 375L1796.1 379.2L1798.7 383.2L1801.3 387.1L1803.8 390.9L1806.4 394.6L1809 398.2L1811.6 401.7L1814.1 404.9L1816.7 407.8L1819.3 410.5L1821.9 412.8L1824.4 414.7L1827 416.3L1829.6 417.7L1832.2 418.9L1834.7 420L1837.3 421"/>
<path d="M1222.3 416.3L1224.8 415.3L1227.4 414.2L1230 413.1L1232.6 411.9L1235.1 410.8L1237.7 409.7L1240.3 408.6L1242.8 407.4L1245.4 406.1L1248 404.7L1250.6 403.3L1253.1 401.7L1255.7 400L1258.3 398.2L1260.9 396.4L1263.4 394.4L1266 392.5L1268.6 390.4L1271.2 388.3L1273.7 386.2L1276.3 384.1L1278.9 381.9L1281.4 379.7L1284 377.6L1286.6 375.4L1289.2 373.2L1291.7 371L1294.3 368.8L1296.9 366.6L1299.5 364.3L1302 362L1304.6 359.7L1307.2 357.4L1309.8 354.9L1312.3 352.5L1314.9 350L1317.5 347.4L1320 344.8L1322.6 342.2L1325.2 339.5L1327.8 336.8L1330.3 334.1L1332.9 331.3L1335.5 328.6L1338.1 325.9L1340.6 323.2L1343.2 320.5L1345.8 317.8L1348.4 315.2L1350.9 312.6L1353.5 310L1356.1 307.5L1358.6 304.9L1361.2 302.4L1363.8 299.9L1366.4 297.5L1368.9 295L1371.5 292.5L1374.1 290L1376.7 287.5L1379.2 285.1L1381.8 282.5L1384.4 280L1387 277.5L1389.5 275L1392.1 272.4L1394.7 269.8L1397.2 267.2L1399.8 264.6L1402.4 262L1405 259.3L1407.5 256.7L1410.1 254L1412.7 251.3L1415.3 248.6L1417.8 245.8L1420.4 243.1L1423 240.3L1425.6 237.5L1428.1 234.7L1430.7 232L1433.3 229.2L1435.8 226.4L1438.4 223.7L1441 220.9L1443.6 218.2L1446.1 215.5L1448.7 212.8L1451.3 210.2L1453.9 207.5L1456.4 204.9L1459 202.3L1461.6 199.7L1464.2 197.1L1466.7 194.5L1469.3 192L1471.9 189.4L1474.5 186.9L1477 184.4L1479.6 181.9L1482.2 179.4L1484.7 176.9L1487.3 174.5L1489.9 172.1L1492.5 169.7L1495 167.3L1497.6 164.9L1500.2 162.6L1502.8 160.3L1505.3 158.1L1507.9 155.9L1510.5 153.7L1513.1 151.6L1515.6 149.5L1518.2 147.5L1520.8 145.5L1523.3 143.6L1525.9 141.7L1528.5 139.8L1531.1 138L1533.6 136.2L1536.2 134.4L1538.8 132.7L1541.4 131L1543.9 129.3L1546.5 127.7L1549.1 126.1L1551.7 124.5L1554.2 123L1556.8 121.5L1559.4 120L1561.9 118.6L1564.5 117.2L1567.1 115.9L1569.7 114.7L1572.2 113.5L1574.8 112.3L1577.4 111.2L1580 110.2L1582.5 109.3L1585.1 108.3L1587.7 107.5L1590.3 106.7L1592.8 105.9L1595.4 105.2L1598 104.5L1600.5 103.8L1603.1 103.2L1605.7 102.6L1608.3 102L1610.8 101.5L1613.4 100.9L1616 100.4L1618.6 100L1621.1 99.5L1623.7 99.1L1626.3 98.8L1628.9 98.4L1631.4 98.2L1634 97.9L1636.6 97.7L1639.1 97.6L1641.7 97.5L1644.3 97.4L1646.9 97.4L1649.4 97.5L1652 97.6L1654.6 97.8L1657.2 98L1659.7 98.3L1662.3 98.7L1664.9 99.1L1667.5 99.6L1670 100.1L1672.6 100.7L1675.2 101.4L1677.7 102.1L1680.3 102.9L1682.9 103.8L1685.5 104.7L1688 105.7L1690.6 106.7L1693.2 107.8L1695.8 108.9L1698.3 110.1L1700.9 111.3L1703.5 112.5L1706.1 113.8L1708.6 115.1L1711.2 116.5L1713.8 117.8L1716.4 119.3L1718.9 120.7L1721.5 122.2L1724.1 123.8L1726.6 125.4L1729.2 127.1L1731.8 128.8L1734.4 130.5L1736.9 132.4L1739.5 134.3L1742.1 136.2L1744.7 138.3L1747.2 140.3L1749.8 142.5L1752.4 144.6L1755 146.8L1757.5 149.1L1760.1 151.4L1762.7 153.7L1765.2 156L1767.8 158.3L1770.4 160.7L1773 163L1775.5 165.4L1778.1 167.7L1780.7 170.2L1783.3 172.7L1785.8 175.4L1788.4 178.2L1791 181.2L1793.6 184.3L1796.1 187.7L1798.7 191.4L1801.3 195.4L1803.8 199.7L1806.4 204.4L1809 210.1L1811.6 217.4L1814.1 226.7L1816.7 237.5L1819.3 249.2L1821.9 261.3L1824.4 273.3L1827 285.3L1829.6 297.3L1832.2 309.2L1834.7 321.1L1837.3 333"/>
<path d="M1222.3 416.3L1224.8 415.3L1227.4 414.2L1230 413.1L1232.6 411.9L1235.1 410.8L1237.7 409.7L1240.3 408.6L1242.8 407.4L1245.4 406.1L1248 404.7L1250.6 403.3L1253.1 401.7L1255.7 400L1258.3 398.2L1260.9 396.4L1263.4 394.4L1266 392.5L1268.6 390.4L1271.2 388.3L1273.7 386.2L1276.3 384.1L1278.9 381.9L1281.4 379.7L1284 377.6L1286.6 375.4L1289.2 373.2L1291.7 371L1294.3 368.8L1296.9 366.6L1299.5 364.3L1302 362L1304.6 359.7L1307.2 357.4L1309.8 354.9L1312.3 352.5L1314.9 350L1317.5 347.4L1320 344.8L1322.6 342.2L1325.2 339.5L1327.8 336.8L1330.3 334.1L1332.9 331.3L1335.5 328.6L1338.1 325.9L1340.6 323.2L1343.2 320.5L1345.8 317.8L1348.4 315.2L1350.9 312.6L1353.5 310L1356.1 307.5L1358.6 304.9L1361.2 302.4L1363.8 299.9L1366.4 297.5L1368.9 295L1371.5 292.5L1374.1 290L1376.7 287.5L1379.2 285.1L1381.8 282.5L1384.4 280L1387 277.5L1389.5 275L1392.1 272.4L1394.7 269.8L1397.2 267.2L1399.8 264.6L1402.4 262L1405 259.3L1407.5 256.7L1410.1 254L1412.7 251.3L1415.3 248.6L1417.8 245.8L1420.4 243.1L1423 240.3L1425.6 237.5L1428.1 234.7L1430.7 232L1433.3 229.2L1435.8 226.4L1438.4 223.7L1441 220.9L1443.6 218.2L1446.1 215.5L1448.7 212.8L1451.3 210.2L1453.9 207.5L1456.4 204.9L1459 202.3L1461.6 199.7L1464.2 197.1L1466.7 194.5L1469.3 192L1471.9 189.4L1474.5 186.9L1477 184.4L1479.6 181.9L1482.2 179.4L1484.7 176.9L1487.3 174.5L1489.9 172.1L1492.5 169.7L1495 167.3L1497.6 164.9L1500.2 162.6L1502.8 160.3L1505.3 158.1L1507.9 155.9L1510.5 153.7L1513.1 151.6L1515.6 149.5L1518.2 147.5L1520.8 145.5L1523.3 143.6L1525.9 141.7L1528.5 139.8L1531.1 138L1533.6 136.2L1536.2 134.4L1538.8 132.7L1541.4 131L1543.9 129.3L1546.5 127.7L1549.1 126.1L1551.7 124.5L1554.2 123L1556.8 121.5L1559.4 120L1561.9 118.6L1564.5 117.2L1567.1 115.9L1569.7 114.7L1572.2 113.5L1574.8 112.3L1577.4 111.2L1580 110.2L1582.5 109.3L1585.1 108.3L1587.7 107.5L1590.3 106.7L1592.8 105.9L1595.4 105.2L1598 104.5L1600.5 103.8L1603.1 103.2L1605.7 102.6L1608.3 102L1610.8 101.5L1613.4 100.9L1616 100.4L1618.6 100L1621.1 99.5L1623.7 99.1L1626.3 98.8L1628.9 98.4L1631.4 98.2L1634 97.9L1636.6 97.7L1639.1 97.6L1641.7 97.5L1644.3 97.4L1646.9 97.4L1649.4 97.5L1652 97.6L1654.6 97.8L1657.2 98L1659.7 98.3L1662.3 98.7L1664.9 99.1L1667.5 99.6L1670 100.1L1672.6 100.7L1675.2 101.4L1677.7 102.1L1680.3 102.9L1682.9 103.8L1685.5 104.7L1688 105.6L1690.6 106.7L1693.2 107.7L1695.8 108.9L1698.3 110L1700.9 111.2L1703.5 112.5L1706.1 113.8L1708.6 115.1L1711.2 116.5L1713.8 117.9L1716.4 119.4L1718.9 120.9L1721.5 122.4L1724.1 124L1726.6 125.6L1729.2 127.3L1731.8 129L1734.4 130.7L1736.9 132.4L1739.5 134.3L1742.1 136.1L1744.7 138L1747.2 139.9L1749.8 141.8L1752.4 143.8L1755 145.8L1757.5 147.9L1760.1 150L1762.7 152.1L1765.2 154.3L1767.8 156.5L1770.4 158.7L1773 161L1775.5 163.3L1778.1 165.6L1780.7 168L1783.3 170.3L1785.8 172.8L1788.4 175.2L1791 177.7L1793.6 180.1L1796.1 182.6L1798.7 185.2L1801.3 187.7L1803.8 190.3L1806.4 192.8L1809 195.4L1811.6 198L1814.1 200.6L1816.7 203.2L1819.3 205.9L1821.9 208.5L1824.4 211.1L1827 213.8L1829.6 216.4L1832.2 219.1L1834.7 221.7L1837.3 224.4"/>
<path d="M1183 577.6L1184.3 567.6L1185.6 557.7L1186.9 548L1188.2 538.4L1189.5 528.9L1190.9 519.6L1192.2 510.4L1193.5 501L1194.8 491.6L1196.1 482.3L1197.4 473.5L1198.7 465.3L1200 458L1201.3 451.2L1202.6 445L1203.9 439.5L1205.2 435.2L1206.6 431.8L1207.9 428.9L1209.2 426.5L1210.5 424.6L1211.8 423L1213.1 421.6L1214.4 420.5L1215.7 419.5L1217 418.7L1218.3 418L1219.6 417.4L1220.9 416.8L1222.3 416.3L1224.8 415.3L1227.4 414.2L1230 413.1L1232.6 411.9L1235.1 410.7L1237.7 409.6L1240.3 408.4L1242.8 407.2L1245.4 406L1248 404.7L1250.6 403.4L1253.1 402.1L1255.7 400.8L1258.3 399.5L1260.9 398.1L1263.4 396.7L1266 395.3L1268.6 393.8L1271.2 392.3L1273.7 390.9L1276.3 389.4L1278.9 387.8L1281.4 386.3L1284 384.8L1286.6 383.2L1289.2 381.6L1291.7 380.1L1294.3 378.4L1296.9 376.8L1299.5 375.2L1302 373.5L1304.6 371.8L1307.2 370.1L1309.8 368.3L1312.3 366.6L1314.9 364.8L1317.5 362.9L1320 361.1L1322.6 359.2L1325.2 357.3L1327.8 355.4L1330.3 353.5L1332.9 351.5L1335.5 349.6L1338.1 347.6L1340.6 345.6L1343.2 343.6L1345.8 341.6L1348.4 339.6L1350.9 337.6L1353.5 335.6L1356.1 333.6L1358.6 331.6L1361.2 329.7L1363.8 327.7L1366.4 325.7L1368.9 323.8L1371.5 321.8L1374.1 319.9L1376.7 317.9L1379.2 316L1381.8 314.1L1384.4 312.3L1387 310.4L1389.5 308.6L1392.1 306.7L1394.7 304.9L1397.2 303L1399.8 301.2L1402.4 299.4L1405 297.5L1407.5 295.7L1410.1 293.9L1412.7 292L1415.3 290.1L1417.8 288.3L1420.4 286.4L1423 284.5L1425.6 282.7L1428.1 280.8L1430.7 279L1433.3 277.2L1435.8 275.4L1438.4 273.7L1441 271.9L1443.6 270.2L1446.1 268.6L1448.7 267L1451.3 265.4L1453.9 263.9L1456.4 262.4L1459 260.9L1461.6 259.5L1464.2 258.1L1466.7 256.7L1469.3 255.3L1471.9 253.9L1474.5 252.6L1477 251.2L1479.6 249.9L1482.2 248.5L1484.7 247.2L1487.3 245.9L1489.9 244.6L1492.5 243.4L1495 242.2L1497.6 241L1500.2 239.9L1502.8 238.8L1505.3 237.8L1507.9 236.8L1510.5 235.9L1513.1 235.1L1515.6 234.3L1518.2 233.6L1520.8 232.9L1523.3 232.4L1525.9 231.8L1528.5 231.3L1531.1 230.9L1533.6 230.5L1536.2 230.1L1538.8 229.8L1541.4 229.5L1543.9 229.2L1546.5 228.9L1549.1 228.7L1551.7 228.6L1554.2 228.6L1556.8 228.7L1559.4 228.9L1561.9 229.2L1564.5 229.6L1567.1 230L1569.7 230.6L1572.2 231.2L1574.8 231.8L1577.4 232.5L1580 233.2L1582.5 234L1585.1 234.8L1587.7 235.7L1590.3 236.6L1592.8 237.5L1595.4 238.5L1598 239.6L1600.5 240.7L1603.1 241.9L1605.7 243.2L1608.3 244.5L1610.8 245.9L1613.4 247.3L1616 248.8L1618.6 250.4L1621.1 252.1L1623.7 253.7L1626.3 255.5L1628.9 257.3L1631.4 259.2L1634 261.1L1636.6 263L1639.1 265L1641.7 267.1L1644.3 269.2L1646.9 271.3L1649.4 273.5L1652 275.7L1654.6 278L1657.2 280.3L1659.7 282.8L1662.3 285.2L1664.9 287.8L1667.5 290.4L1670 293L1672.6 295.8L1675.2 298.6L1677.7 301.5L1680.3 304.4L1682.9 307.4L1685.5 310.5L1688 313.5L1690.6 316.6L1693.2 319.7L1695.8 322.7L1698.3 325.8L1700.9 328.8L1703.5 331.7L1706.1 334.6L1708.6 337.4L1711.2 340.1L1713.8 342.8L1716.4 345.4L1718.9 348L1721.5 350.5L1724.1 353L1726.6 355.4L1729.2 357.8L1731.8 360.2L1734.4 362.6L1736.9 365L1739.5 367.3L1742.1 369.7L1744.7 372L1747.2 374.4L1749.8 376.7L1752.4 379L1755 381.3L1757.5 383.5L1760.1 385.7L1762.7 387.8L1765.2 389.9L1767.8 391.9L1770.4 393.9L1773 395.8L1775.5 397.6L1778.1 399.4L1780.7 401L1783.3 402.6L1785.8 404.2L1788.4 405.6L1791 407L1793.6 408.3L1796.1 409.5L1798.7 410.6L1801.3 411.7L1803.8 412.7L1806.4 413.7L1809 414.5L1811.6 415.3L1814.1 416L1816.7 416.7L1819.3 417.4L1821.9 418L1824.4 418.5L1827 419L1829.6 419.6L1832.2 420L1834.7 420.5L1837.3 421" stroke-dasharray="7.6 5.9"/>
<path d="M1222.3 416.3L1224.8 415.3L1227.4 414.2L1230 413.1L1232.6 411.9L1235.1 410.8L1237.7 409.7L1240.3 408.5L1242.8 407.3L1245.4 406L1248 404.7L1250.6 403.3L1253.1 401.9L1255.7 400.3L1258.3 398.8L1260.9 397.1L1263.4 395.4L1266 393.6L1268.6 391.8L1271.2 390L1273.7 388.1L1276.3 386.2L1278.9 384.2L1281.4 382.3L1284 380.3L1286.6 378.3L1289.2 376.3L1291.7 374.2L1294.3 372.2L1296.9 370.1L1299.5 368L1302 365.9L1304.6 363.8L1307.2 361.7L1309.8 359.5L1312.3 357.3L1314.9 355.1L1317.5 352.9L1320 350.7L1322.6 348.4L1325.2 346.1L1327.8 343.9L1330.3 341.6L1332.9 339.3L1335.5 337L1338.1 334.7L1340.6 332.3L1343.2 330L1345.8 327.7L1348.4 325.4L1350.9 323.1L1353.5 320.8L1356.1 318.5L1358.6 316.2L1361.2 313.9L1363.8 311.6L1366.4 309.3L1368.9 307L1371.5 304.8L1374.1 302.5L1376.7 300.3L1379.2 298L1381.8 295.8L1384.4 293.6L1387 291.4L1389.5 289.2L1392.1 287L1394.7 284.8L1397.2 282.6L1399.8 280.4L1402.4 278.2L1405 276.1L1407.5 273.8L1410.1 271.6L1412.7 269.4L1415.3 267.2L1417.8 264.9L1420.4 262.7L1423 260.4L1425.6 258.2L1428.1 255.9L1430.7 253.7L1433.3 251.4L1435.8 249.2L1438.4 246.9L1441 244.7L1443.6 242.5L1446.1 240.3L1448.7 238.1L1451.3 235.9L1453.9 233.8L1456.4 231.6L1459 229.5L1461.6 227.4L1464.2 225.3L1466.7 223.2L1469.3 221.1L1471.9 219L1474.5 216.9L1477 214.8L1479.6 212.8L1482.2 210.7L1484.7 208.7L1487.3 206.6L1489.9 204.6L1492.5 202.6L1495 200.7L1497.6 198.8L1500.2 196.9L1502.8 195L1505.3 193.2L1507.9 191.5L1510.5 189.8L1513.1 188.1L1515.6 186.6L1518.2 185.1L1520.8 183.6L1523.3 182.2L1525.9 180.9L1528.5 179.6L1531.1 178.5L1533.6 177.3L1536.2 176.3L1538.8 175.4L1541.4 174.5L1543.9 173.7L1546.5 173L1549.1 172.3L1551.7 171.7L1554.2 171.2L1556.8 170.7L1559.4 170.3L1561.9 170L1564.5 169.6L1567.1 169.3L1569.7 169.1L1572.2 168.8L1574.8 168.6L1577.4 168.4L1580 168.2L1582.5 168.3L1585.1 168.5L1587.7 168.9L1590.3 169.4L1592.8 169.9L1595.4 170.6L1598 171.4L1600.5 172.2L1603.1 173.1L1605.7 174L1608.3 175L1610.8 176L1613.4 176.9L1616 178L1618.6 179L1621.1 180.1L1623.7 181.3L1626.3 182.5L1628.9 183.8L1631.4 185.1L1634 186.6L1636.6 188.1L1639.1 189.7L1641.7 191.5L1644.3 193.4L1646.9 195.4L1649.4 197.5L1652 199.7L1654.6 202.2L1657.2 204.7L1659.7 207.4L1662.3 210.3L1664.9 213.3L1667.5 216.5L1670 219.8L1672.6 223.4L1675.2 227.1L1677.7 231L1680.3 235.1L1682.9 239.3L1685.5 243.6L1688 248L1690.6 252.5L1693.2 257L1695.8 261.5L1698.3 266L1700.9 270.5L1703.5 275L1706.1 279.4L1708.6 283.7L1711.2 287.9L1713.8 292L1716.4 296.1L1718.9 300.1L1721.5 304L1724.1 307.9L1726.6 311.7L1729.2 315.5L1731.8 319.3L1734.4 323.1L1736.9 326.8L1739.5 330.5L1742.1 334.2L1744.7 338L1747.2 341.7L1749.8 345.3L1752.4 349L1755 352.6L1757.5 356.2L1760.1 359.7L1762.7 363.1L1765.2 366.6L1767.8 369.9L1770.4 373.2L1773 376.3L1775.5 379.4L1778.1 382.5L1780.7 385.4L1783.3 388.2L1785.8 390.9L1788.4 393.5L1791 396L1793.6 398.3L1796.1 400.6L1798.7 402.7L1801.3 404.7L1803.8 406.5L1806.4 408.2L1809 409.7L1811.6 411.2L1814.1 412.5L1816.7 413.7L1819.3 414.8L1821.9 415.8L1824.4 416.8L1827 417.7L1829.6 418.6L1832.2 419.4L1834.7 420.2L1837.3 421" stroke-dasharray="7.6 5.9" stroke-dashoffset="8.72"/>
<path d="M1222.3 416.3L1224.8 415.3L1227.4 414.2L1230 413.1L1232.6 411.9L1235.1 410.8L1237.7 409.7L1240.3 408.6L1242.8 407.4L1245.4 406.1L1248 404.7L1250.6 403.3L1253.1 401.7L1255.7 400L1258.3 398.3L1260.9 396.4L1263.4 394.6L1266 392.6L1268.6 390.6L1271.2 388.6L1273.7 386.5L1276.3 384.4L1278.9 382.3L1281.4 380.3L1284 378.2L1286.6 376.1L1289.2 374L1291.7 372L1294.3 369.9L1296.9 367.8L1299.5 365.6L1302 363.5L1304.6 361.3L1307.2 359L1309.8 356.8L1312.3 354.4L1314.9 352L1317.5 349.6L1320 347.1L1322.6 344.5L1325.2 341.9L1327.8 339.3L1330.3 336.7L1332.9 334.1L1335.5 331.4L1338.1 328.7L1340.6 326.1L1343.2 323.4L1345.8 320.8L1348.4 318.2L1350.9 315.6L1353.5 313.1L1356.1 310.6L1358.6 308L1361.2 305.5L1363.8 303L1366.4 300.5L1368.9 298.1L1371.5 295.6L1374.1 293.1L1376.7 290.6L1379.2 288.1L1381.8 285.5L1384.4 283L1387 280.4L1389.5 277.8L1392.1 275.3L1394.7 272.7L1397.2 270.1L1399.8 267.5L1402.4 264.8L1405 262.2L1407.5 259.6L1410.1 256.9L1412.7 254.3L1415.3 251.7L1417.8 249L1420.4 246.4L1423 243.7L1425.6 241.1L1428.1 238.5L1430.7 235.9L1433.3 233.3L1435.8 230.7L1438.4 228.2L1441 225.6L1443.6 223.1L1446.1 220.6L1448.7 218.2L1451.3 215.7L1453.9 213.3L1456.4 210.9L1459 208.4L1461.6 206L1464.2 203.6L1466.7 201.2L1469.3 198.8L1471.9 196.3L1474.5 193.9L1477 191.4L1479.6 188.9L1482.2 186.4L1484.7 183.8L1487.3 181.3L1489.9 178.8L1492.5 176.3L1495 173.8L1497.6 171.3L1500.2 168.9L1502.8 166.5L1505.3 164.2L1507.9 161.9L1510.5 159.7L1513.1 157.6L1515.6 155.6L1518.2 153.6L1520.8 151.7L1523.3 149.9L1525.9 148.1L1528.5 146.4L1531.1 144.8L1533.6 143.2L1536.2 141.7L1538.8 140.2L1541.4 138.8L1543.9 137.4L1546.5 136.1L1549.1 134.9L1551.7 133.6L1554.2 132.4L1556.8 131.3L1559.4 130.2L1561.9 129.1L1564.5 128.1L1567.1 127.1L1569.7 126.1L1572.2 125.2L1574.8 124.3L1577.4 123.4L1580 122.5L1582.5 121.7L1585.1 120.9L1587.7 120.1L1590.3 119.4L1592.8 118.7L1595.4 118.1L1598 117.5L1600.5 116.9L1603.1 116.4L1605.7 115.9L1608.3 115.5L1610.8 115.1L1613.4 114.8L1616 114.6L1618.6 114.4L1621.1 114.3L1623.7 114.3L1626.3 114.4L1628.9 114.5L1631.4 114.8L1634 115.1L1636.6 115.5L1639.1 116.1L1641.7 116.7L1644.3 117.4L1646.9 118.2L1649.4 119.1L1652 120L1654.6 121.1L1657.2 122.3L1659.7 123.6L1662.3 125L1664.9 126.5L1667.5 128.1L1670 129.8L1672.6 131.7L1675.2 133.6L1677.7 135.7L1680.3 137.9L1682.9 140.2L1685.5 142.7L1688 145.2L1690.6 147.9L1693.2 150.8L1695.8 153.7L1698.3 156.8L1700.9 160.1L1703.5 163.4L1706.1 167L1708.6 170.6L1711.2 174.4L1713.8 178.4L1716.4 182.6L1718.9 187L1721.5 191.7L1724.1 196.5L1726.6 201.7L1729.2 207.1L1731.8 212.8L1734.4 218.9L1736.9 225.2L1739.5 232L1742.1 239L1744.7 246.4L1747.2 254L1749.8 261.8L1752.4 269.8L1755 277.8L1757.5 285.8L1760.1 293.8L1762.7 301.6L1765.2 309.3L1767.8 316.8L1770.4 324L1773 330.9L1775.5 337.4L1778.1 343.5L1780.7 349.4L1783.3 354.9L1785.8 360.2L1788.4 365.2L1791 370L1793.6 374.5L1796.1 378.8L1798.7 383L1801.3 387L1803.8 390.9L1806.4 394.7L1809 398.3L1811.6 401.7L1814.1 404.9L1816.7 407.9L1819.3 410.5L1821.9 412.8L1824.4 414.7L1827 416.3L1829.6 417.7L1832.2 418.9L1834.7 420L1837.3 421" stroke-dasharray="7.6 5.9" stroke-dashoffset="8.73"/>
<path d="M1222.3 416.3L1224.8 415.3L1227.4 414.2L1230 413.1L1232.6 412L1235.1 410.9L1237.7 409.7L1240.3 408.6L1242.8 407.4L1245.4 406.1L1248 404.7L1250.6 403.3L1253.1 401.6L1255.7 399.9L1258.3 398.1L1260.9 396.2L1263.4 394.3L1266 392.2L1268.6 390.2L1271.2 388L1273.7 385.9L1276.3 383.7L1278.9 381.5L1281.4 379.2L1284 377L1286.6 374.8L1289.2 372.6L1291.7 370.4L1294.3 368.1L1296.9 365.8L1299.5 363.5L1302 361.2L1304.6 358.8L1307.2 356.4L1309.8 354L1312.3 351.5L1314.9 349L1317.5 346.4L1320 343.7L1322.6 341L1325.2 338.3L1327.8 335.6L1330.3 332.8L1332.9 330.1L1335.5 327.3L1338.1 324.5L1340.6 321.8L1343.2 319L1345.8 316.3L1348.4 313.6L1350.9 311L1353.5 308.4L1356.1 305.8L1358.6 303.2L1361.2 300.6L1363.8 298L1366.4 295.5L1368.9 292.9L1371.5 290.3L1374.1 287.7L1376.7 285.2L1379.2 282.6L1381.8 279.9L1384.4 277.3L1387 274.6L1389.5 272L1392.1 269.3L1394.7 266.6L1397.2 263.8L1399.8 261.1L1402.4 258.3L1405 255.6L1407.5 252.8L1410.1 250L1412.7 247.3L1415.3 244.5L1417.8 241.7L1420.4 238.9L1423 236.1L1425.6 233.3L1428.1 230.5L1430.7 227.7L1433.3 224.9L1435.8 222.1L1438.4 219.3L1441 216.5L1443.6 213.7L1446.1 211L1448.7 208.2L1451.3 205.5L1453.9 202.8L1456.4 200L1459 197.3L1461.6 194.6L1464.2 191.9L1466.7 189.2L1469.3 186.5L1471.9 183.8L1474.5 181.1L1477 178.4L1479.6 175.7L1482.2 173.1L1484.7 170.4L1487.3 167.7L1489.9 165.1L1492.5 162.4L1495 159.8L1497.6 157.2L1500.2 154.6L1502.8 152.1L1505.3 149.6L1507.9 147.1L1510.5 144.7L1513.1 142.3L1515.6 140L1518.2 137.6L1520.8 135.4L1523.3 133.2L1525.9 131L1528.5 128.9L1531.1 126.8L1533.6 124.8L1536.2 122.8L1538.8 120.9L1541.4 119.1L1543.9 117.3L1546.5 115.5L1549.1 113.8L1551.7 112.2L1554.2 110.6L1556.8 109L1559.4 107.5L1561.9 106L1564.5 104.6L1567.1 103.3L1569.7 101.9L1572.2 100.6L1574.8 99.4L1577.4 98.1L1580 97L1582.5 95.8L1585.1 94.7L1587.7 93.6L1590.3 92.5L1592.8 91.5L1595.4 90.5L1598 89.6L1600.5 88.6L1603.1 87.7L1605.7 86.9L1608.3 86L1610.8 85.2L1613.4 84.4L1616 83.6L1618.6 82.9L1621.1 82.2L1623.7 81.5L1626.3 80.9L1628.9 80.3L1631.4 79.7L1634 79.2L1636.6 78.7L1639.1 78.3L1641.7 77.9L1644.3 77.5L1646.9 77.2L1649.4 77L1652 76.8L1654.6 76.7L1657.2 76.6L1659.7 76.6L1662.3 76.6L1664.9 76.8L1667.5 76.9L1670 77.1L1672.6 77.4L1675.2 77.7L1677.7 78L1680.3 78.4L1682.9 78.8L1685.5 79.2L1688 79.7L1690.6 80.2L1693.2 80.8L1695.8 81.4L1698.3 82L1700.9 82.7L1703.5 83.5L1706.1 84.3L1708.6 85.1L1711.2 86L1713.8 87L1716.4 88L1718.9 89L1721.5 90.1L1724.1 91.2L1726.6 92.4L1729.2 93.7L1731.8 95L1734.4 96.3L1736.9 97.7L1739.5 99.2L1742.1 100.7L1744.7 102.3L1747.2 103.9L1749.8 105.5L1752.4 107.2L1755 108.8L1757.5 110.5L1760.1 112.2L1762.7 113.9L1765.2 115.7L1767.8 117.4L1770.4 119L1773 120.7L1775.5 122.4L1778.1 124.1L1780.7 125.9L1783.3 127.8L1785.8 129.8L1788.4 132.1L1791 134.6L1793.6 137.5L1796.1 140.7L1798.7 144.2L1801.3 148.2L1803.8 152.6L1806.4 157.6L1809 163.4L1811.6 170.3L1814.1 178.5L1816.7 187.7L1819.3 197.5L1821.9 207.6L1824.4 217.8L1827 228.1L1829.6 238.9L1832.2 250.2L1834.7 262L1837.3 274" stroke-dasharray="7.6 5.9" stroke-dashoffset="11.93"/>
<path d="M1222.3 416.3L1224.8 415.3L1227.4 414.2L1230 413.1L1232.6 412L1235.1 410.9L1237.7 409.7L1240.3 408.6L1242.8 407.4L1245.4 406.1L1248 404.7L1250.6 403.3L1253.1 401.6L1255.7 399.9L1258.3 398.1L1260.9 396.2L1263.4 394.3L1266 392.2L1268.6 390.2L1271.2 388L1273.7 385.9L1276.3 383.7L1278.9 381.5L1281.4 379.2L1284 377L1286.6 374.8L1289.2 372.6L1291.7 370.4L1294.3 368.1L1296.9 365.8L1299.5 363.5L1302 361.2L1304.6 358.8L1307.2 356.4L1309.8 354L1312.3 351.5L1314.9 349L1317.5 346.4L1320 343.7L1322.6 341L1325.2 338.3L1327.8 335.6L1330.3 332.8L1332.9 330.1L1335.5 327.3L1338.1 324.5L1340.6 321.8L1343.2 319L1345.8 316.3L1348.4 313.6L1350.9 311L1353.5 308.4L1356.1 305.8L1358.6 303.2L1361.2 300.6L1363.8 298L1366.4 295.5L1368.9 292.9L1371.5 290.3L1374.1 287.7L1376.7 285.2L1379.2 282.6L1381.8 279.9L1384.4 277.3L1387 274.6L1389.5 272L1392.1 269.3L1394.7 266.6L1397.2 263.8L1399.8 261.1L1402.4 258.3L1405 255.6L1407.5 252.8L1410.1 250L1412.7 247.3L1415.3 244.5L1417.8 241.7L1420.4 238.9L1423 236.1L1425.6 233.3L1428.1 230.5L1430.7 227.7L1433.3 224.9L1435.8 222.1L1438.4 219.3L1441 216.5L1443.6 213.7L1446.1 211L1448.7 208.2L1451.3 205.5L1453.9 202.8L1456.4 200L1459 197.3L1461.6 194.6L1464.2 191.9L1466.7 189.2L1469.3 186.5L1471.9 183.8L1474.5 181.1L1477 178.4L1479.6 175.7L1482.2 173.1L1484.7 170.4L1487.3 167.7L1489.9 165.1L1492.5 162.4L1495 159.8L1497.6 157.2L1500.2 154.6L1502.8 152.1L1505.3 149.6L1507.9 147.1L1510.5 144.7L1513.1 142.3L1515.6 140L1518.2 137.6L1520.8 135.4L1523.3 133.2L1525.9 131L1528.5 128.9L1531.1 126.8L1533.6 124.8L1536.2 122.8L1538.8 120.9L1541.4 119.1L1543.9 117.3L1546.5 115.5L1549.1 113.8L1551.7 112.2L1554.2 110.6L1556.8 109L1559.4 107.5L1561.9 106L1564.5 104.6L1567.1 103.3L1569.7 101.9L1572.2 100.6L1574.8 99.4L1577.4 98.1L1580 97L1582.5 95.8L1585.1 94.7L1587.7 93.6L1590.3 92.5L1592.8 91.5L1595.4 90.5L1598 89.6L1600.5 88.6L1603.1 87.7L1605.7 86.9L1608.3 86L1610.8 85.2L1613.4 84.4L1616 83.6L1618.6 82.9L1621.1 82.2L1623.7 81.5L1626.3 80.9L1628.9 80.3L1631.4 79.7L1634 79.2L1636.6 78.7L1639.1 78.3L1641.7 77.9L1644.3 77.5L1646.9 77.2L1649.4 77L1652 76.8L1654.6 76.7L1657.2 76.6L1659.7 76.6L1662.3 76.6L1664.9 76.8L1667.5 76.9L1670 77.1L1672.6 77.4L1675.2 77.7L1677.7 78L1680.3 78.4L1682.9 78.8L1685.5 79.2L1688 79.7L1690.6 80.2L1693.2 80.8L1695.8 81.4L1698.3 82.1L1700.9 82.8L1703.5 83.5L1706.1 84.3L1708.6 85.1L1711.2 86L1713.8 86.9L1716.4 87.8L1718.9 88.8L1721.5 89.8L1724.1 90.8L1726.6 91.9L1729.2 93L1731.8 94.1L1734.4 95.3L1736.9 96.5L1739.5 97.7L1742.1 98.9L1744.7 100.2L1747.2 101.4L1749.8 102.7L1752.4 104.1L1755 105.5L1757.5 106.9L1760.1 108.3L1762.7 109.8L1765.2 111.4L1767.8 113L1770.4 114.6L1773 116.3L1775.5 118.1L1778.1 119.9L1780.7 121.7L1783.3 123.6L1785.8 125.6L1788.4 127.6L1791 129.6L1793.6 131.7L1796.1 133.8L1798.7 136L1801.3 138.1L1803.8 140.4L1806.4 142.6L1809 144.9L1811.6 147.2L1814.1 149.5L1816.7 151.8L1819.3 154.2L1821.9 156.6L1824.4 158.9L1827 161.3L1829.6 163.7L1832.2 166.2L1834.7 168.6L1837.3 171" stroke-dasharray="7.6 5.9" stroke-dashoffset="8.73"/>
</g>
<g fill="none" stroke="#000" stroke-width="2"><path d="M1183 8.4 V577.6 H1903.7" /><path d="M1183 577.6v12M1248.4 577.6v6.3M1313.9 577.6v12M1379.3 577.6v6.3M1444.7 577.6v12M1510.2 577.6v6.3M1575.6 577.6v12M1641 577.6v6.3M1706.4 577.6v12M1771.9 577.6v6.3M1837.3 577.6v12M1902.7 577.6v6.3M1183 577.6h-12M1183 526h-6.3M1183 474.3h-12M1183 422.6h-6.3M1183 371h-12M1183 319.4h-6.3M1183 267.7h-12M1183 216.1h-6.3M1183 164.4h-12M1183 112.8h-6.3M1183 61.1h-12M1183 9.4h-6.3"/></g>
<g class="tk"><text x="1183" y="615.8" text-anchor="middle">0.0</text><text x="1313.9" y="615.8" text-anchor="middle">0.2</text><text x="1444.7" y="615.8" text-anchor="middle">0.4</text><text x="1575.6" y="615.8" text-anchor="middle">0.6</text><text x="1706.4" y="615.8" text-anchor="middle">0.8</text><text x="1837.3" y="615.8" text-anchor="middle">1.0</text><text x="1163" y="585.3" text-anchor="end">0.00</text><text x="1163" y="482" text-anchor="end">0.05</text><text x="1163" y="378.7" text-anchor="end">0.10</text><text x="1163" y="275.4" text-anchor="end">0.15</text><text x="1163" y="172.1" text-anchor="end">0.20</text><text x="1163" y="68.8" text-anchor="end">0.25</text></g>
<path d="M1519 285L1659 53.9" fill="none" stroke="#000" stroke-width="1.7"/>
<path d="M1665.6 43L1661.5 57.8L1654.3 53.5Z" fill="#000"/>
<text class="an" x="1420.4" y="312">t= 0.5, 0.7,1, 2, 3</text>
<text class="xl" x="1543" y="661" text-anchor="middle">x</text>
<text class="cap" x="1546.5" y="738" text-anchor="middle">(b)</text>
<text class="yl" transform="translate(1075 292.3) rotate(-90)">&#964;</text>
<text class="sub" transform="translate(1085.2 279) rotate(-90)">w</text>
<rect x="1809.5" y="18.4" width="190.2" height="76.8" fill="#fff" stroke="#4a4a4a" stroke-width="1"/>
<path d="M1821.4 41.9H1890.5" fill="none" stroke="#000" stroke-width="1.6"/>
<text class="lg" x="1898" y="52.2">Ec=0.5</text>
<path d="M1821.4 78.1H1885.7" fill="none" stroke="#000" stroke-width="1.6" stroke-dasharray="7.2 7"/>
<text class="lg" x="1898" y="88.4">Ec=0.8</text>
<g class="cv">
<path d="M645.6 1365L646.9 1357.7L648.2 1350.4L649.5 1343.3L650.8 1336.3L652.1 1329.3L653.5 1322.5L654.8 1315.7L656.1 1308.8L657.4 1301.9L658.7 1295.1L660 1288.7L661.3 1282.7L662.6 1277.3L663.9 1272.3L665.2 1267.7L666.5 1263.7L667.8 1260.6L669.2 1258.1L670.5 1255.9L671.8 1254.2L673.1 1252.8L674.4 1251.6L675.7 1250.6L677 1249.8L678.3 1249.1L679.6 1248.5L680.9 1248L682.2 1247.5L683.6 1247.1L684.9 1246.7L687.4 1246L690 1245.2L692.6 1244.3L695.2 1243.5L697.7 1242.6L700.3 1241.8L702.9 1240.9L705.5 1240L708 1239.1L710.6 1238.2L713.2 1237.3L715.7 1236.4L718.3 1235.4L720.9 1234.5L723.5 1233.5L726 1232.5L728.6 1231.5L731.2 1230.5L733.8 1229.4L736.3 1228.4L738.9 1227.3L741.5 1226.2L744.1 1225.1L746.6 1224L749.2 1222.8L751.8 1221.7L754.4 1220.5L756.9 1219.3L759.5 1218.1L762.1 1216.9L764.7 1215.7L767.2 1214.4L769.8 1213.2L772.4 1211.9L774.9 1210.6L777.5 1209.3L780.1 1208L782.7 1206.7L785.2 1205.3L787.8 1203.9L790.4 1202.6L793 1201.2L795.5 1199.8L798.1 1198.4L800.7 1197L803.3 1195.6L805.8 1194.1L808.4 1192.7L811 1191.2L813.6 1189.8L816.1 1188.3L818.7 1186.9L821.3 1185.4L823.8 1183.9L826.4 1182.5L829 1181L831.6 1179.6L834.1 1178.1L836.7 1176.7L839.3 1175.3L841.9 1173.9L844.4 1172.6L847 1171.2L849.6 1169.9L852.2 1168.5L854.7 1167.2L857.3 1165.9L859.9 1164.6L862.5 1163.3L865 1162L867.6 1160.7L870.2 1159.4L872.8 1158L875.3 1156.7L877.9 1155.3L880.5 1154L883 1152.6L885.6 1151.2L888.2 1149.9L890.8 1148.5L893.3 1147.1L895.9 1145.8L898.5 1144.5L901.1 1143.2L903.6 1141.9L906.2 1140.7L908.8 1139.5L911.4 1138.3L913.9 1137.2L916.5 1136.1L919.1 1135L921.7 1134L924.2 1133L926.8 1132L929.4 1131L931.9 1130L934.5 1129L937.1 1128.1L939.7 1127.1L942.2 1126.2L944.8 1125.2L947.4 1124.3L950 1123.4L952.5 1122.5L955.1 1121.6L957.7 1120.7L960.3 1119.9L962.8 1119.1L965.4 1118.3L968 1117.6L970.6 1116.9L973.1 1116.3L975.7 1115.7L978.3 1115.1L980.8 1114.6L983.4 1114.1L986 1113.7L988.6 1113.3L991.1 1112.9L993.7 1112.6L996.3 1112.3L998.9 1112L1001.4 1111.8L1004 1111.5L1006.6 1111.3L1009.2 1111.2L1011.7 1111.1L1014.3 1111L1016.9 1111L1019.5 1111L1022 1111.2L1024.6 1111.4L1027.2 1111.7L1029.8 1112L1032.3 1112.4L1034.9 1112.8L1037.5 1113.2L1040 1113.7L1042.6 1114.1L1045.2 1114.7L1047.8 1115.2L1050.3 1115.8L1052.9 1116.4L1055.5 1117L1058.1 1117.7L1060.6 1118.4L1063.2 1119.2L1065.8 1120L1068.4 1120.9L1070.9 1121.8L1073.5 1122.8L1076.1 1123.8L1078.7 1124.9L1081.2 1126L1083.8 1127.2L1086.4 1128.4L1088.9 1129.7L1091.5 1131L1094.1 1132.3L1096.7 1133.7L1099.2 1135.1L1101.8 1136.5L1104.4 1138L1107 1139.5L1109.5 1141.1L1112.1 1142.6L1114.7 1144.2L1117.3 1145.9L1119.8 1147.6L1122.4 1149.3L1125 1151.1L1127.6 1152.9L1130.1 1154.8L1132.7 1156.7L1135.3 1158.7L1137.9 1160.8L1140.4 1162.8L1143 1165L1145.6 1167.1L1148.1 1169.3L1150.7 1171.5L1153.3 1173.8L1155.9 1176L1158.4 1178.2L1161 1180.4L1163.6 1182.6L1166.2 1184.7L1168.7 1186.8L1171.3 1188.8L1173.9 1190.8L1176.5 1192.8L1179 1194.7L1181.6 1196.6L1184.2 1198.4L1186.8 1200.3L1189.3 1202.1L1191.9 1203.8L1194.5 1205.6L1197 1207.3L1199.6 1209.1L1202.2 1210.8L1204.8 1212.5L1207.3 1214.3L1209.9 1216L1212.5 1217.7L1215.1 1219.4L1217.6 1221L1220.2 1222.7L1222.8 1224.3L1225.4 1225.8L1227.9 1227.4L1230.5 1228.9L1233.1 1230.3L1235.7 1231.7L1238.2 1233L1240.8 1234.3L1243.4 1235.5L1246 1236.7L1248.5 1237.8L1251.1 1238.9L1253.7 1239.9L1256.2 1240.8L1258.8 1241.7L1261.4 1242.6L1264 1243.4L1266.5 1244.1L1269.1 1244.8L1271.7 1245.4L1274.3 1246L1276.8 1246.5L1279.4 1247L1282 1247.5L1284.6 1247.9L1287.1 1248.3L1289.7 1248.7L1292.3 1249.1L1294.9 1249.5L1297.4 1249.8L1300 1250.2"/>
<path d="M684.9 1246.7L687.4 1246L690 1245.2L692.6 1244.3L695.2 1243.5L697.7 1242.7L700.3 1241.8L702.9 1241L705.5 1240.1L708 1239.2L710.6 1238.2L713.2 1237.2L715.7 1236.2L718.3 1235.1L720.9 1233.9L723.5 1232.7L726 1231.5L728.6 1230.2L731.2 1228.9L733.8 1227.6L736.3 1226.3L738.9 1224.9L741.5 1223.5L744.1 1222.1L746.6 1220.7L749.2 1219.3L751.8 1217.9L754.4 1216.4L756.9 1214.9L759.5 1213.5L762.1 1212L764.7 1210.4L767.2 1208.9L769.8 1207.4L772.4 1205.8L774.9 1204.2L777.5 1202.6L780.1 1201L782.7 1199.3L785.2 1197.6L787.8 1196L790.4 1194.3L793 1192.6L795.5 1190.9L798.1 1189.2L800.7 1187.5L803.3 1185.8L805.8 1184.2L808.4 1182.5L811 1180.8L813.6 1179.2L816.1 1177.5L818.7 1175.9L821.3 1174.3L823.8 1172.7L826.4 1171.1L829 1169.5L831.6 1167.9L834.1 1166.3L836.7 1164.7L839.3 1163.1L841.9 1161.5L844.4 1159.9L847 1158.3L849.6 1156.7L852.2 1155L854.7 1153.4L857.3 1151.8L859.9 1150.2L862.5 1148.6L865 1147L867.6 1145.3L870.2 1143.7L872.8 1142.1L875.3 1140.5L877.9 1138.8L880.5 1137.2L883 1135.6L885.6 1134L888.2 1132.4L890.8 1130.7L893.3 1129.1L895.9 1127.5L898.5 1125.9L901.1 1124.3L903.6 1122.7L906.2 1121.1L908.8 1119.5L911.4 1117.9L913.9 1116.3L916.5 1114.8L919.1 1113.2L921.7 1111.7L924.2 1110.1L926.8 1108.6L929.4 1107.1L931.9 1105.6L934.5 1104.1L937.1 1102.6L939.7 1101.2L942.2 1099.7L944.8 1098.3L947.4 1096.9L950 1095.5L952.5 1094.2L955.1 1092.9L957.7 1091.6L960.3 1090.3L962.8 1089L965.4 1087.8L968 1086.6L970.6 1085.4L973.1 1084.3L975.7 1083.2L978.3 1082.1L980.8 1081.1L983.4 1080.1L986 1079.1L988.6 1078.2L991.1 1077.3L993.7 1076.5L996.3 1075.8L998.9 1075L1001.4 1074.4L1004 1073.8L1006.6 1073.2L1009.2 1072.7L1011.7 1072.3L1014.3 1071.9L1016.9 1071.6L1019.5 1071.3L1022 1071L1024.6 1070.8L1027.2 1070.5L1029.8 1070.3L1032.3 1070.2L1034.9 1070L1037.5 1069.8L1040 1069.7L1042.6 1069.6L1045.2 1069.7L1047.8 1069.8L1050.3 1070.1L1052.9 1070.5L1055.5 1071L1058.1 1071.5L1060.6 1072.1L1063.2 1072.8L1065.8 1073.5L1068.4 1074.2L1070.9 1074.9L1073.5 1075.6L1076.1 1076.3L1078.7 1077L1081.2 1077.8L1083.8 1078.6L1086.4 1079.3L1088.9 1080.2L1091.5 1081L1094.1 1082L1096.7 1082.9L1099.2 1084L1101.8 1085.1L1104.4 1086.2L1107 1087.5L1109.5 1088.8L1112.1 1090.3L1114.7 1091.8L1117.3 1093.5L1119.8 1095.2L1122.4 1097.1L1125 1099L1127.6 1101.1L1130.1 1103.4L1132.7 1105.7L1135.3 1108.2L1137.9 1110.9L1140.4 1113.7L1143 1116.6L1145.6 1119.6L1148.1 1122.7L1150.7 1125.8L1153.3 1129.1L1155.9 1132.3L1158.4 1135.6L1161 1138.9L1163.6 1142.1L1166.2 1145.3L1168.7 1148.5L1171.3 1151.6L1173.9 1154.6L1176.5 1157.6L1179 1160.5L1181.6 1163.4L1184.2 1166.2L1186.8 1169L1189.3 1171.8L1191.9 1174.5L1194.5 1177.2L1197 1179.9L1199.6 1182.6L1202.2 1185.3L1204.8 1187.9L1207.3 1190.6L1209.9 1193.3L1212.5 1195.9L1215.1 1198.5L1217.6 1201.1L1220.2 1203.7L1222.8 1206.2L1225.4 1208.7L1227.9 1211.1L1230.5 1213.5L1233.1 1215.9L1235.7 1218.1L1238.2 1220.3L1240.8 1222.5L1243.4 1224.5L1246 1226.5L1248.5 1228.5L1251.1 1230.3L1253.7 1232.1L1256.2 1233.7L1258.8 1235.3L1261.4 1236.8L1264 1238.2L1266.5 1239.5L1269.1 1240.8L1271.7 1241.9L1274.3 1242.9L1276.8 1243.8L1279.4 1244.7L1282 1245.5L1284.6 1246.3L1287.1 1247L1289.7 1247.7L1292.3 1248.3L1294.9 1249L1297.4 1249.6L1300 1250.2"/>
<path d="M684.9 1246.7L687.4 1246L690 1245.2L692.6 1244.3L695.2 1243.5L697.7 1242.7L700.3 1241.9L702.9 1241L705.5 1240.2L708 1239.2L710.6 1238.2L713.2 1237.2L715.7 1236L718.3 1234.8L720.9 1233.6L723.5 1232.2L726 1230.9L728.6 1229.5L731.2 1228.1L733.8 1226.6L736.3 1225.1L738.9 1223.6L741.5 1222.1L744.1 1220.7L746.6 1219.2L749.2 1217.7L751.8 1216.2L754.4 1214.7L756.9 1213.2L759.5 1211.7L762.1 1210.2L764.7 1208.6L767.2 1207L769.8 1205.4L772.4 1203.8L774.9 1202.1L777.5 1200.3L780.1 1198.5L782.7 1196.7L785.2 1194.8L787.8 1192.9L790.4 1191L793 1189L795.5 1187.1L798.1 1185.1L800.7 1183.2L803.3 1181.3L805.8 1179.3L808.4 1177.4L811 1175.5L813.6 1173.7L816.1 1171.9L818.7 1170.1L821.3 1168.3L823.8 1166.5L826.4 1164.7L829 1163L831.6 1161.2L834.1 1159.4L836.7 1157.7L839.3 1155.9L841.9 1154.1L844.4 1152.3L847 1150.5L849.6 1148.7L852.2 1146.9L854.7 1145.1L857.3 1143.2L859.9 1141.4L862.5 1139.5L865 1137.6L867.6 1135.8L870.2 1133.9L872.8 1132L875.3 1130.1L877.9 1128.3L880.5 1126.4L883 1124.5L885.6 1122.7L888.2 1120.8L890.8 1118.9L893.3 1117.1L895.9 1115.2L898.5 1113.4L901.1 1111.6L903.6 1109.8L906.2 1108L908.8 1106.2L911.4 1104.4L913.9 1102.6L916.5 1100.9L919.1 1099.1L921.7 1097.4L924.2 1095.7L926.8 1094L929.4 1092.3L931.9 1090.5L934.5 1088.8L937.1 1087.1L939.7 1085.4L942.2 1083.7L944.8 1082L947.4 1080.4L950 1078.7L952.5 1077L955.1 1075.4L957.7 1073.7L960.3 1072.1L962.8 1070.5L965.4 1069L968 1067.4L970.6 1065.9L973.1 1064.5L975.7 1063L978.3 1061.6L980.8 1060.3L983.4 1059L986 1057.7L988.6 1056.5L991.1 1055.3L993.7 1054.1L996.3 1053L998.9 1051.9L1001.4 1050.8L1004 1049.8L1006.6 1048.8L1009.2 1047.9L1011.7 1047L1014.3 1046.1L1016.9 1045.3L1019.5 1044.5L1022 1043.8L1024.6 1043L1027.2 1042.3L1029.8 1041.7L1032.3 1041L1034.9 1040.4L1037.5 1039.9L1040 1039.3L1042.6 1038.8L1045.2 1038.3L1047.8 1037.9L1050.3 1037.4L1052.9 1037L1055.5 1036.7L1058.1 1036.3L1060.6 1036L1063.2 1035.7L1065.8 1035.4L1068.4 1035.2L1070.9 1034.9L1073.5 1034.7L1076.1 1034.6L1078.7 1034.5L1081.2 1034.6L1083.8 1034.7L1086.4 1034.8L1088.9 1035.1L1091.5 1035.4L1094.1 1035.7L1096.7 1036.2L1099.2 1036.6L1101.8 1037.1L1104.4 1037.7L1107 1038.2L1109.5 1038.8L1112.1 1039.5L1114.7 1040.2L1117.3 1040.9L1119.8 1041.7L1122.4 1042.6L1125 1043.5L1127.6 1044.5L1130.1 1045.6L1132.7 1046.7L1135.3 1047.9L1137.9 1049.3L1140.4 1050.7L1143 1052.1L1145.6 1053.7L1148.1 1055.4L1150.7 1057.2L1153.3 1059L1155.9 1061L1158.4 1063L1161 1065.2L1163.6 1067.5L1166.2 1069.8L1168.7 1072.3L1171.3 1074.9L1173.9 1077.6L1176.5 1080.5L1179 1083.4L1181.6 1086.6L1184.2 1089.8L1186.8 1093.3L1189.3 1096.9L1191.9 1100.7L1194.5 1104.7L1197 1109L1199.6 1113.4L1202.2 1118.1L1204.8 1123L1207.3 1128.1L1209.9 1133.4L1212.5 1138.7L1215.1 1144.2L1217.6 1149.7L1220.2 1155.2L1222.8 1160.7L1225.4 1166.1L1227.9 1171.3L1230.5 1176.5L1233.1 1181.4L1235.7 1186.1L1238.2 1190.6L1240.8 1194.9L1243.4 1198.9L1246 1202.7L1248.5 1206.4L1251.1 1209.9L1253.7 1213.2L1256.2 1216.4L1258.8 1219.5L1261.4 1222.5L1264 1225.3L1266.5 1228.1L1269.1 1230.8L1271.7 1233.5L1274.3 1236L1276.8 1238.3L1279.4 1240.5L1282 1242.5L1284.6 1244.1L1287.1 1245.5L1289.7 1246.7L1292.3 1247.8L1294.9 1248.6L1297.4 1249.4L1300 1250.2"/>
<path d="M684.9 1246.7L687.4 1246L690 1245.2L692.6 1244.3L695.2 1243.5L697.7 1242.7L700.3 1241.9L702.9 1241.1L705.5 1240.2L708 1239.2L710.6 1238.2L713.2 1237.2L715.7 1236L718.3 1234.8L720.9 1233.5L723.5 1232.1L726 1230.7L728.6 1229.2L731.2 1227.7L733.8 1226.2L736.3 1224.7L738.9 1223.1L741.5 1221.5L744.1 1219.9L746.6 1218.3L749.2 1216.7L751.8 1215.1L754.4 1213.5L756.9 1211.9L759.5 1210.3L762.1 1208.6L764.7 1206.9L767.2 1205.2L769.8 1203.5L772.4 1201.7L774.9 1199.9L777.5 1198.1L780.1 1196.2L782.7 1194.3L785.2 1192.4L787.8 1190.4L790.4 1188.4L793 1186.4L795.5 1184.4L798.1 1182.4L800.7 1180.4L803.3 1178.4L805.8 1176.5L808.4 1174.5L811 1172.6L813.6 1170.7L816.1 1168.8L818.7 1166.9L821.3 1165.1L823.8 1163.2L826.4 1161.4L829 1159.6L831.6 1157.8L834.1 1155.9L836.7 1154.1L839.3 1152.3L841.9 1150.5L844.4 1148.6L847 1146.8L849.6 1144.9L852.2 1143.1L854.7 1141.2L857.3 1139.3L859.9 1137.4L862.5 1135.5L865 1133.6L867.6 1131.6L870.2 1129.7L872.8 1127.7L875.3 1125.7L877.9 1123.7L880.5 1121.7L883 1119.7L885.6 1117.7L888.2 1115.6L890.8 1113.6L893.3 1111.6L895.9 1109.5L898.5 1107.5L901.1 1105.5L903.6 1103.5L906.2 1101.5L908.8 1099.5L911.4 1097.5L913.9 1095.5L916.5 1093.6L919.1 1091.7L921.7 1089.8L924.2 1087.9L926.8 1086L929.4 1084.1L931.9 1082.2L934.5 1080.4L937.1 1078.5L939.7 1076.7L942.2 1074.8L944.8 1073L947.4 1071.2L950 1069.4L952.5 1067.6L955.1 1065.9L957.7 1064.1L960.3 1062.4L962.8 1060.7L965.4 1059L968 1057.4L970.6 1055.8L973.1 1054.2L975.7 1052.6L978.3 1051.1L980.8 1049.6L983.4 1048.2L986 1046.7L988.6 1045.3L991.1 1044L993.7 1042.6L996.3 1041.3L998.9 1040L1001.4 1038.7L1004 1037.5L1006.6 1036.3L1009.2 1035.1L1011.7 1033.9L1014.3 1032.7L1016.9 1031.6L1019.5 1030.5L1022 1029.4L1024.6 1028.4L1027.2 1027.4L1029.8 1026.5L1032.3 1025.5L1034.9 1024.7L1037.5 1023.8L1040 1023L1042.6 1022.3L1045.2 1021.6L1047.8 1020.9L1050.3 1020.3L1052.9 1019.7L1055.5 1019.1L1058.1 1018.6L1060.6 1018L1063.2 1017.6L1065.8 1017.1L1068.4 1016.7L1070.9 1016.2L1073.5 1015.8L1076.1 1015.5L1078.7 1015.1L1081.2 1014.8L1083.8 1014.4L1086.4 1014.1L1088.9 1013.9L1091.5 1013.6L1094.1 1013.4L1096.7 1013.3L1099.2 1013.1L1101.8 1013L1104.4 1012.9L1107 1012.9L1109.5 1012.9L1112.1 1012.9L1114.7 1013L1117.3 1013.2L1119.8 1013.3L1122.4 1013.5L1125 1013.8L1127.6 1014.1L1130.1 1014.5L1132.7 1014.9L1135.3 1015.3L1137.9 1015.8L1140.4 1016.3L1143 1016.9L1145.6 1017.6L1148.1 1018.2L1150.7 1018.9L1153.3 1019.7L1155.9 1020.5L1158.4 1021.3L1161 1022.2L1163.6 1023.1L1166.2 1024L1168.7 1024.9L1171.3 1025.9L1173.9 1026.8L1176.5 1027.9L1179 1028.9L1181.6 1030L1184.2 1031.1L1186.8 1032.2L1189.3 1033.4L1191.9 1034.6L1194.5 1035.9L1197 1037.2L1199.6 1038.5L1202.2 1039.9L1204.8 1041.3L1207.3 1042.8L1209.9 1044.3L1212.5 1045.9L1215.1 1047.5L1217.6 1049.1L1220.2 1050.8L1222.8 1052.4L1225.4 1054.1L1227.9 1055.8L1230.5 1057.5L1233.1 1059.3L1235.7 1061L1238.2 1062.7L1240.8 1064.5L1243.4 1066.3L1246 1068.1L1248.5 1070.1L1251.1 1072.1L1253.7 1074.3L1256.2 1076.6L1258.8 1079.1L1261.4 1081.8L1264 1084.7L1266.5 1087.9L1269.1 1091.4L1271.7 1095.5L1274.3 1100.9L1276.8 1107.7L1279.4 1115.6L1282 1124.2L1284.6 1133.1L1287.1 1141.9L1289.7 1150.7L1292.3 1159.4L1294.9 1168.2L1297.4 1176.9L1300 1185.6"/>
<path d="M684.9 1246.7L687.4 1246L690 1245.2L692.6 1244.3L695.2 1243.5L697.7 1242.7L700.3 1241.9L702.9 1241.1L705.5 1240.2L708 1239.2L710.6 1238.2L713.2 1237.2L715.7 1236L718.3 1234.8L720.9 1233.5L723.5 1232.1L726 1230.7L728.6 1229.2L731.2 1227.7L733.8 1226.2L736.3 1224.7L738.9 1223.1L741.5 1221.5L744.1 1219.9L746.6 1218.3L749.2 1216.7L751.8 1215.1L754.4 1213.5L756.9 1211.9L759.5 1210.3L762.1 1208.6L764.7 1206.9L767.2 1205.2L769.8 1203.5L772.4 1201.7L774.9 1199.9L777.5 1198.1L780.1 1196.2L782.7 1194.3L785.2 1192.4L787.8 1190.4L790.4 1188.4L793 1186.4L795.5 1184.4L798.1 1182.4L800.7 1180.4L803.3 1178.4L805.8 1176.5L808.4 1174.5L811 1172.6L813.6 1170.7L816.1 1168.8L818.7 1166.9L821.3 1165.1L823.8 1163.2L826.4 1161.4L829 1159.6L831.6 1157.8L834.1 1155.9L836.7 1154.1L839.3 1152.3L841.9 1150.5L844.4 1148.6L847 1146.8L849.6 1144.9L852.2 1143.1L854.7 1141.2L857.3 1139.3L859.9 1137.4L862.5 1135.5L865 1133.6L867.6 1131.6L870.2 1129.7L872.8 1127.7L875.3 1125.7L877.9 1123.7L880.5 1121.7L883 1119.7L885.6 1117.7L888.2 1115.6L890.8 1113.6L893.3 1111.6L895.9 1109.5L898.5 1107.5L901.1 1105.5L903.6 1103.5L906.2 1101.5L908.8 1099.5L911.4 1097.5L913.9 1095.5L916.5 1093.6L919.1 1091.7L921.7 1089.8L924.2 1087.9L926.8 1086L929.4 1084.1L931.9 1082.2L934.5 1080.4L937.1 1078.5L939.7 1076.7L942.2 1074.8L944.8 1073L947.4 1071.2L950 1069.4L952.5 1067.6L955.1 1065.9L957.7 1064.1L960.3 1062.4L962.8 1060.7L965.4 1059L968 1057.4L970.6 1055.8L973.1 1054.2L975.7 1052.6L978.3 1051.1L980.8 1049.6L983.4 1048.2L986 1046.7L988.6 1045.3L991.1 1044L993.7 1042.6L996.3 1041.3L998.9 1040L1001.4 1038.7L1004 1037.5L1006.6 1036.3L1009.2 1035.1L1011.7 1033.9L1014.3 1032.7L1016.9 1031.6L1019.5 1030.5L1022 1029.4L1024.6 1028.4L1027.2 1027.4L1029.8 1026.5L1032.3 1025.5L1034.9 1024.7L1037.5 1023.8L1040 1023L1042.6 1022.3L1045.2 1021.6L1047.8 1020.9L1050.3 1020.3L1052.9 1019.7L1055.5 1019.1L1058.1 1018.6L1060.6 1018L1063.2 1017.6L1065.8 1017.1L1068.4 1016.7L1070.9 1016.2L1073.5 1015.8L1076.1 1015.5L1078.7 1015.1L1081.2 1014.8L1083.8 1014.4L1086.4 1014.1L1088.9 1013.9L1091.5 1013.6L1094.1 1013.4L1096.7 1013.2L1099.2 1013.1L1101.8 1013L1104.4 1012.9L1107 1012.9L1109.5 1012.9L1112.1 1012.9L1114.7 1013L1117.3 1013.2L1119.8 1013.3L1122.4 1013.6L1125 1013.8L1127.6 1014.1L1130.1 1014.5L1132.7 1014.9L1135.3 1015.3L1137.9 1015.8L1140.4 1016.3L1143 1016.9L1145.6 1017.5L1148.1 1018.2L1150.7 1018.9L1153.3 1019.7L1155.9 1020.4L1158.4 1021.3L1161 1022.1L1163.6 1023L1166.2 1023.9L1168.7 1024.9L1171.3 1025.9L1173.9 1026.9L1176.5 1027.9L1179 1029L1181.6 1030.1L1184.2 1031.2L1186.8 1032.4L1189.3 1033.6L1191.9 1034.8L1194.5 1036L1197 1037.3L1199.6 1038.6L1202.2 1039.9L1204.8 1041.2L1207.3 1042.6L1209.9 1044L1212.5 1045.4L1215.1 1046.9L1217.6 1048.4L1220.2 1049.9L1222.8 1051.4L1225.4 1053L1227.9 1054.6L1230.5 1056.2L1233.1 1057.8L1235.7 1059.5L1238.2 1061.2L1240.8 1062.9L1243.4 1064.6L1246 1066.4L1248.5 1068.1L1251.1 1069.9L1253.7 1071.7L1256.2 1073.5L1258.8 1075.4L1261.4 1077.2L1264 1079.1L1266.5 1081L1269.1 1082.9L1271.7 1084.7L1274.3 1086.6L1276.8 1088.6L1279.4 1090.5L1282 1092.4L1284.6 1094.3L1287.1 1096.3L1289.7 1098.2L1292.3 1100.2L1294.9 1102.1L1297.4 1104.1L1300 1106"/>
<path d="M645.6 1365L646.9 1354.3L648.2 1343.9L649.5 1333.7L650.8 1323.8L652.1 1314.1L653.5 1304.6L654.8 1295.4L656.1 1285.9L657.4 1276.4L658.7 1267.3L660 1258.8L661.3 1251.3L662.6 1245L663.9 1239.8L665.2 1235.3L666.5 1231.6L667.8 1228.5L669.2 1225.9L670.5 1223.7L671.8 1222L673.1 1220.7L674.4 1219.6L675.7 1218.7L677 1217.8L678.3 1217L679.6 1216.2L680.9 1215.4L682.2 1214.7L683.6 1214.1L684.9 1213.4L687.4 1212.2L690 1210.9L692.6 1209.6L695.2 1208.3L697.7 1207L700.3 1205.7L702.9 1204.5L705.5 1203.2L708 1202L710.6 1200.7L713.2 1199.4L715.7 1198.2L718.3 1196.8L720.9 1195.5L723.5 1194.2L726 1192.8L728.6 1191.4L731.2 1190L733.8 1188.6L736.3 1187.1L738.9 1185.7L741.5 1184.2L744.1 1182.6L746.6 1181.1L749.2 1179.5L751.8 1177.8L754.4 1176.2L756.9 1174.5L759.5 1172.8L762.1 1171.1L764.7 1169.3L767.2 1167.6L769.8 1165.8L772.4 1163.9L774.9 1162.1L777.5 1160.2L780.1 1158.4L782.7 1156.5L785.2 1154.6L787.8 1152.7L790.4 1150.8L793 1148.9L795.5 1146.9L798.1 1145L800.7 1143.2L803.3 1141.3L805.8 1139.4L808.4 1137.6L811 1135.7L813.6 1133.9L816.1 1132.2L818.7 1130.4L821.3 1128.6L823.8 1126.8L826.4 1125L829 1123.2L831.6 1121.3L834.1 1119.4L836.7 1117.5L839.3 1115.6L841.9 1113.5L844.4 1111.5L847 1109.3L849.6 1107.2L852.2 1105L854.7 1102.8L857.3 1100.6L859.9 1098.3L862.5 1096.1L865 1093.9L867.6 1091.7L870.2 1089.6L872.8 1087.5L875.3 1085.5L877.9 1083.5L880.5 1081.6L883 1079.7L885.6 1077.9L888.2 1076.1L890.8 1074.4L893.3 1072.7L895.9 1071.1L898.5 1069.4L901.1 1067.8L903.6 1066.3L906.2 1064.7L908.8 1063.1L911.4 1061.6L913.9 1060.1L916.5 1058.6L919.1 1057.1L921.7 1055.6L924.2 1054.1L926.8 1052.6L929.4 1051.1L931.9 1049.6L934.5 1048.2L937.1 1046.7L939.7 1045.2L942.2 1043.8L944.8 1042.3L947.4 1040.9L950 1039.4L952.5 1038L955.1 1036.7L957.7 1035.3L960.3 1034L962.8 1032.8L965.4 1031.6L968 1030.4L970.6 1029.4L973.1 1028.4L975.7 1027.5L978.3 1026.6L980.8 1025.8L983.4 1025.1L986 1024.5L988.6 1023.9L991.1 1023.4L993.7 1022.9L996.3 1022.5L998.9 1022.2L1001.4 1021.9L1004 1021.6L1006.6 1021.4L1009.2 1021.3L1011.7 1021.1L1014.3 1021.1L1016.9 1021L1019.5 1021L1022 1021L1024.6 1021L1027.2 1021.1L1029.8 1021.3L1032.3 1021.5L1034.9 1021.8L1037.5 1022.3L1040 1022.8L1042.6 1023.4L1045.2 1024.2L1047.8 1025.1L1050.3 1026L1052.9 1027L1055.5 1028.2L1058.1 1029.3L1060.6 1030.6L1063.2 1031.9L1065.8 1033.2L1068.4 1034.6L1070.9 1036L1073.5 1037.4L1076.1 1038.9L1078.7 1040.4L1081.2 1041.9L1083.8 1043.5L1086.4 1045.1L1088.9 1046.8L1091.5 1048.6L1094.1 1050.4L1096.7 1052.3L1099.2 1054.3L1101.8 1056.4L1104.4 1058.6L1107 1060.9L1109.5 1063.3L1112.1 1065.8L1114.7 1068.4L1117.3 1071L1119.8 1073.7L1122.4 1076.5L1125 1079.3L1127.6 1082.1L1130.1 1085L1132.7 1087.8L1135.3 1090.7L1137.9 1093.6L1140.4 1096.5L1143 1099.4L1145.6 1102.3L1148.1 1105.3L1150.7 1108.2L1153.3 1111.2L1155.9 1114.1L1158.4 1117.2L1161 1120.2L1163.6 1123.3L1166.2 1126.4L1168.7 1129.5L1171.3 1132.7L1173.9 1136L1176.5 1139.2L1179 1142.5L1181.6 1145.7L1184.2 1149L1186.8 1152.2L1189.3 1155.4L1191.9 1158.5L1194.5 1161.6L1197 1164.6L1199.6 1167.6L1202.2 1170.4L1204.8 1173.1L1207.3 1175.7L1209.9 1178.3L1212.5 1180.7L1215.1 1183L1217.6 1185.3L1220.2 1187.4L1222.8 1189.5L1225.4 1191.5L1227.9 1193.4L1230.5 1195.2L1233.1 1197L1235.7 1198.7L1238.2 1200.4L1240.8 1201.9L1243.4 1203.4L1246 1204.9L1248.5 1206.2L1251.1 1207.5L1253.7 1208.7L1256.2 1209.9L1258.8 1211L1261.4 1212L1264 1212.9L1266.5 1213.8L1269.1 1214.5L1271.7 1215.3L1274.3 1215.9L1276.8 1216.5L1279.4 1217L1282 1217.5L1284.6 1217.9L1287.1 1218.3L1289.7 1218.7L1292.3 1219L1294.9 1219.4L1297.4 1219.7L1300 1220" stroke-dasharray="7.6 5.9"/>
<path d="M684.9 1213.4L687.4 1212.1L690 1210.8L692.6 1209.6L695.2 1208.3L697.7 1207.1L700.3 1205.9L702.9 1204.7L705.5 1203.5L708 1202.1L710.6 1200.7L713.2 1199.2L715.7 1197.7L718.3 1196L720.9 1194.2L723.5 1192.4L726 1190.5L728.6 1188.6L731.2 1186.6L733.8 1184.6L736.3 1182.6L738.9 1180.6L741.5 1178.6L744.1 1176.6L746.6 1174.6L749.2 1172.7L751.8 1170.7L754.4 1168.8L756.9 1166.9L759.5 1164.9L762.1 1163L764.7 1161L767.2 1159L769.8 1157L772.4 1155L774.9 1152.9L777.5 1150.7L780.1 1148.5L782.7 1146.3L785.2 1144L787.8 1141.7L790.4 1139.3L793 1137L795.5 1134.6L798.1 1132.2L800.7 1129.8L803.3 1127.4L805.8 1125.1L808.4 1122.7L811 1120.4L813.6 1118.1L816.1 1115.8L818.7 1113.5L821.3 1111.2L823.8 1109L826.4 1106.7L829 1104.5L831.6 1102.2L834.1 1099.9L836.7 1097.7L839.3 1095.4L841.9 1093L844.4 1090.7L847 1088.3L849.6 1086L852.2 1083.6L854.7 1081.1L857.3 1078.7L859.9 1076.3L862.5 1073.8L865 1071.3L867.6 1068.8L870.2 1066.3L872.8 1063.8L875.3 1061.3L877.9 1058.8L880.5 1056.3L883 1053.8L885.6 1051.3L888.2 1048.9L890.8 1046.4L893.3 1044L895.9 1041.6L898.5 1039.3L901.1 1036.9L903.6 1034.7L906.2 1032.5L908.8 1030.3L911.4 1028.2L913.9 1026.2L916.5 1024.2L919.1 1022.2L921.7 1020.3L924.2 1018.4L926.8 1016.5L929.4 1014.7L931.9 1012.8L934.5 1011L937.1 1009.1L939.7 1007.3L942.2 1005.4L944.8 1003.6L947.4 1001.7L950 999.9L952.5 998L955.1 996.2L957.7 994.3L960.3 992.5L962.8 990.7L965.4 988.9L968 987.2L970.6 985.5L973.1 983.8L975.7 982.1L978.3 980.5L980.8 979L983.4 977.5L986 976L988.6 974.6L991.1 973.3L993.7 972L996.3 970.8L998.9 969.6L1001.4 968.5L1004 967.5L1006.6 966.6L1009.2 965.8L1011.7 965L1014.3 964.3L1016.9 963.7L1019.5 963.1L1022 962.6L1024.6 962.1L1027.2 961.7L1029.8 961.3L1032.3 960.9L1034.9 960.5L1037.5 960.1L1040 959.7L1042.6 959.4L1045.2 959.2L1047.8 959L1050.3 959L1052.9 959.2L1055.5 959.6L1058.1 960.1L1060.6 960.7L1063.2 961.4L1065.8 962.2L1068.4 963.1L1070.9 964L1073.5 964.9L1076.1 965.9L1078.7 966.9L1081.2 967.9L1083.8 969L1086.4 970.1L1088.9 971.4L1091.5 972.6L1094.1 974L1096.7 975.5L1099.2 977L1101.8 978.7L1104.4 980.5L1107 982.4L1109.5 984.4L1112.1 986.5L1114.7 988.8L1117.3 991.1L1119.8 993.4L1122.4 995.9L1125 998.4L1127.6 1000.9L1130.1 1003.5L1132.7 1006.2L1135.3 1008.8L1137.9 1011.5L1140.4 1014.2L1143 1017L1145.6 1019.7L1148.1 1022.6L1150.7 1025.5L1153.3 1028.5L1155.9 1031.7L1158.4 1034.9L1161 1038.3L1163.6 1041.8L1166.2 1045.5L1168.7 1049.4L1171.3 1053.5L1173.9 1057.7L1176.5 1062.1L1179 1066.7L1181.6 1071.5L1184.2 1076.4L1186.8 1081.5L1189.3 1086.7L1191.9 1092.1L1194.5 1097.6L1197 1103.2L1199.6 1109L1202.2 1114.8L1204.8 1120.8L1207.3 1126.8L1209.9 1132.8L1212.5 1138.8L1215.1 1144.8L1217.6 1150.7L1220.2 1156.4L1222.8 1161.9L1225.4 1167.3L1227.9 1172.4L1230.5 1177.1L1233.1 1181.6L1235.7 1185.7L1238.2 1189.4L1240.8 1192.7L1243.4 1195.8L1246 1198.4L1248.5 1200.9L1251.1 1203L1253.7 1204.9L1256.2 1206.6L1258.8 1208.1L1261.4 1209.4L1264 1210.6L1266.5 1211.7L1269.1 1212.7L1271.7 1213.6L1274.3 1214.4L1276.8 1215.2L1279.4 1215.9L1282 1216.5L1284.6 1217.1L1287.1 1217.6L1289.7 1218.1L1292.3 1218.6L1294.9 1219.1L1297.4 1219.6L1300 1220" stroke-dasharray="7.6 5.9" stroke-dashoffset="13.41"/>
<path d="M684.9 1213.4L687.4 1212.1L690 1210.8L692.6 1209.6L695.2 1208.4L697.7 1207.2L700.3 1206.1L702.9 1204.9L705.5 1203.6L708 1202.3L710.6 1200.8L713.2 1199.1L715.7 1197.3L718.3 1195.3L720.9 1193.2L723.5 1191L726 1188.8L728.6 1186.4L731.2 1184L733.8 1181.5L736.3 1179.1L738.9 1176.6L741.5 1174.1L744.1 1171.7L746.6 1169.3L749.2 1167L751.8 1164.7L754.4 1162.4L756.9 1160.2L759.5 1158L762.1 1155.7L764.7 1153.5L767.2 1151.2L769.8 1149L772.4 1146.7L774.9 1144.4L777.5 1142L780.1 1139.7L782.7 1137.2L785.2 1134.8L787.8 1132.3L790.4 1129.9L793 1127.4L795.5 1124.9L798.1 1122.4L800.7 1120L803.3 1117.5L805.8 1115.1L808.4 1112.7L811 1110.4L813.6 1108.1L816.1 1105.8L818.7 1103.5L821.3 1101.3L823.8 1099L826.4 1096.7L829 1094.4L831.6 1092.1L834.1 1089.7L836.7 1087.2L839.3 1084.7L841.9 1082.1L844.4 1079.4L847 1076.6L849.6 1073.7L852.2 1070.9L854.7 1067.9L857.3 1065L859.9 1062L862.5 1059.1L865 1056.1L867.6 1053.2L870.2 1050.3L872.8 1047.5L875.3 1044.8L877.9 1042.1L880.5 1039.5L883 1037L885.6 1034.5L888.2 1032L890.8 1029.6L893.3 1027.2L895.9 1024.8L898.5 1022.4L901.1 1020L903.6 1017.6L906.2 1015.1L908.8 1012.6L911.4 1010.1L913.9 1007.5L916.5 1004.9L919.1 1002.3L921.7 999.7L924.2 997L926.8 994.4L929.4 991.8L931.9 989.1L934.5 986.5L937.1 984L939.7 981.4L942.2 978.9L944.8 976.4L947.4 974L950 971.6L952.5 969.2L955.1 966.9L957.7 964.6L960.3 962.3L962.8 960.1L965.4 958L968 955.8L970.6 953.8L973.1 951.7L975.7 949.8L978.3 947.8L980.8 945.9L983.4 944.1L986 942.3L988.6 940.5L991.1 938.8L993.7 937.1L996.3 935.5L998.9 933.9L1001.4 932.4L1004 930.9L1006.6 929.4L1009.2 928L1011.7 926.6L1014.3 925.3L1016.9 924L1019.5 922.8L1022 921.6L1024.6 920.4L1027.2 919.3L1029.8 918.2L1032.3 917.2L1034.9 916.2L1037.5 915.3L1040 914.4L1042.6 913.5L1045.2 912.7L1047.8 911.9L1050.3 911.2L1052.9 910.5L1055.5 909.8L1058.1 909.2L1060.6 908.7L1063.2 908.2L1065.8 907.7L1068.4 907.3L1070.9 907L1073.5 906.7L1076.1 906.5L1078.7 906.3L1081.2 906.2L1083.8 906.1L1086.4 906L1088.9 906L1091.5 906L1094.1 906.1L1096.7 906.2L1099.2 906.4L1101.8 906.7L1104.4 907.1L1107 907.6L1109.5 908.2L1112.1 909L1114.7 909.8L1117.3 910.7L1119.8 911.7L1122.4 912.7L1125 913.9L1127.6 915.2L1130.1 916.5L1132.7 917.9L1135.3 919.3L1137.9 920.9L1140.4 922.5L1143 924.1L1145.6 925.9L1148.1 927.8L1150.7 929.8L1153.3 931.9L1155.9 934.1L1158.4 936.4L1161 939L1163.6 941.6L1166.2 944.5L1168.7 947.5L1171.3 950.8L1173.9 954.2L1176.5 957.9L1179 961.9L1181.6 966.3L1184.2 971L1186.8 976.1L1189.3 981.6L1191.9 987.6L1194.5 994.2L1197 1001.3L1199.6 1008.9L1202.2 1017.2L1204.8 1026.1L1207.3 1035.5L1209.9 1045.3L1212.5 1055.5L1215.1 1065.8L1217.6 1076.3L1220.2 1086.8L1222.8 1097.1L1225.4 1107.2L1227.9 1117L1230.5 1126.4L1233.1 1135.2L1235.7 1143.4L1238.2 1150.9L1240.8 1157.8L1243.4 1164.1L1246 1169.8L1248.5 1175.1L1251.1 1180L1253.7 1184.4L1256.2 1188.6L1258.8 1192.5L1261.4 1196.2L1264 1199.7L1266.5 1203L1269.1 1206.4L1271.7 1209.5L1274.3 1212.5L1276.8 1215.1L1279.4 1217.3L1282 1219L1284.6 1220.1L1287.1 1220.8L1289.7 1221.1L1292.3 1221.1L1294.9 1220.8L1297.4 1220.5L1300 1220" stroke-dasharray="7.6 5.9" stroke-dashoffset="13.41"/>
<path d="M684.9 1213.4L687.4 1212.1L690 1210.8L692.6 1209.6L695.2 1208.4L697.7 1207.3L700.3 1206.1L702.9 1205L705.5 1203.7L708 1202.3L710.6 1200.8L713.2 1199L715.7 1197.1L718.3 1195L720.9 1192.8L723.5 1190.4L726 1187.9L728.6 1185.4L731.2 1182.8L733.8 1180.1L736.3 1177.5L738.9 1174.8L741.5 1172.2L744.1 1169.7L746.6 1167.2L749.2 1164.8L751.8 1162.5L754.4 1160.2L756.9 1157.9L759.5 1155.7L762.1 1153.4L764.7 1151.1L767.2 1148.9L769.8 1146.6L772.4 1144.2L774.9 1141.9L777.5 1139.4L780.1 1136.9L782.7 1134.3L785.2 1131.7L787.8 1129L790.4 1126.3L793 1123.5L795.5 1120.8L798.1 1118L800.7 1115.2L803.3 1112.4L805.8 1109.6L808.4 1106.9L811 1104.1L813.6 1101.4L816.1 1098.7L818.7 1096L821.3 1093.3L823.8 1090.6L826.4 1088L829 1085.3L831.6 1082.7L834.1 1080L836.7 1077.4L839.3 1074.7L841.9 1072.1L844.4 1069.4L847 1066.7L849.6 1064L852.2 1061.3L854.7 1058.6L857.3 1055.9L859.9 1053.2L862.5 1050.5L865 1047.8L867.6 1045L870.2 1042.3L872.8 1039.5L875.3 1036.8L877.9 1034L880.5 1031.2L883 1028.5L885.6 1025.7L888.2 1022.9L890.8 1020.2L893.3 1017.4L895.9 1014.7L898.5 1011.9L901.1 1009.2L903.6 1006.4L906.2 1003.7L908.8 1001L911.4 998.3L913.9 995.6L916.5 992.9L919.1 990.3L921.7 987.6L924.2 985L926.8 982.4L929.4 979.7L931.9 977.1L934.5 974.5L937.1 972L939.7 969.4L942.2 966.9L944.8 964.3L947.4 961.8L950 959.3L952.5 956.8L955.1 954.3L957.7 951.9L960.3 949.5L962.8 947.1L965.4 944.7L968 942.3L970.6 940L973.1 937.7L975.7 935.4L978.3 933.2L980.8 931L983.4 928.9L986 926.7L988.6 924.7L991.1 922.6L993.7 920.6L996.3 918.6L998.9 916.7L1001.4 914.9L1004 913L1006.6 911.3L1009.2 909.6L1011.7 907.9L1014.3 906.3L1016.9 904.7L1019.5 903.1L1022 901.6L1024.6 900.2L1027.2 898.7L1029.8 897.4L1032.3 896L1034.9 894.7L1037.5 893.4L1040 892.1L1042.6 890.9L1045.2 889.7L1047.8 888.5L1050.3 887.4L1052.9 886.3L1055.5 885.2L1058.1 884.2L1060.6 883.3L1063.2 882.4L1065.8 881.5L1068.4 880.7L1070.9 880L1073.5 879.3L1076.1 878.7L1078.7 878.2L1081.2 877.7L1083.8 877.3L1086.4 876.9L1088.9 876.5L1091.5 876.2L1094.1 875.9L1096.7 875.6L1099.2 875.4L1101.8 875.1L1104.4 874.9L1107 874.8L1109.5 874.6L1112.1 874.5L1114.7 874.4L1117.3 874.4L1119.8 874.4L1122.4 874.5L1125 874.7L1127.6 874.9L1130.1 875.2L1132.7 875.5L1135.3 875.8L1137.9 876.2L1140.4 876.6L1143 877L1145.6 877.5L1148.1 877.9L1150.7 878.4L1153.3 879L1155.9 879.5L1158.4 880.1L1161 880.8L1163.6 881.4L1166.2 882.1L1168.7 882.9L1171.3 883.7L1173.9 884.5L1176.5 885.4L1179 886.4L1181.6 887.4L1184.2 888.5L1186.8 889.7L1189.3 891L1191.9 892.4L1194.5 893.9L1197 895.6L1199.6 897.4L1202.2 899.3L1204.8 901.3L1207.3 903.5L1209.9 905.7L1212.5 908.1L1215.1 910.4L1217.6 912.8L1220.2 915.2L1222.8 917.5L1225.4 919.8L1227.9 921.9L1230.5 924L1233.1 926L1235.7 927.7L1238.2 929.4L1240.8 931L1243.4 932.7L1246 934.5L1248.5 936.5L1251.1 938.9L1253.7 941.8L1256.2 945.2L1258.8 949.2L1261.4 953.9L1264 959.5L1266.5 966L1269.1 973.4L1271.7 982L1274.3 991.8L1276.8 1002.8L1279.4 1015.1L1282 1028.7L1284.6 1043.7L1287.1 1059.8L1289.7 1076.8L1292.3 1094.4L1294.9 1112.7L1297.4 1131.2L1300 1150" stroke-dasharray="7.6 5.9" stroke-dashoffset="3.12"/>
<path d="M684.9 1213.4L687.4 1212.1L690 1210.8L692.6 1209.6L695.2 1208.4L697.7 1207.3L700.3 1206.1L702.9 1205L705.5 1203.7L708 1202.3L710.6 1200.8L713.2 1199L715.7 1197.1L718.3 1195L720.9 1192.8L723.5 1190.4L726 1187.9L728.6 1185.4L731.2 1182.8L733.8 1180.1L736.3 1177.5L738.9 1174.8L741.5 1172.2L744.1 1169.7L746.6 1167.2L749.2 1164.8L751.8 1162.5L754.4 1160.2L756.9 1157.9L759.5 1155.7L762.1 1153.4L764.7 1151.1L767.2 1148.9L769.8 1146.6L772.4 1144.2L774.9 1141.9L777.5 1139.4L780.1 1136.9L782.7 1134.3L785.2 1131.7L787.8 1129L790.4 1126.3L793 1123.5L795.5 1120.8L798.1 1118L800.7 1115.2L803.3 1112.4L805.8 1109.6L808.4 1106.9L811 1104.1L813.6 1101.4L816.1 1098.7L818.7 1096L821.3 1093.3L823.8 1090.6L826.4 1088L829 1085.3L831.6 1082.7L834.1 1080L836.7 1077.4L839.3 1074.7L841.9 1072.1L844.4 1069.4L847 1066.7L849.6 1064L852.2 1061.3L854.7 1058.6L857.3 1055.9L859.9 1053.2L862.5 1050.5L865 1047.8L867.6 1045L870.2 1042.3L872.8 1039.5L875.3 1036.8L877.9 1034L880.5 1031.2L883 1028.5L885.6 1025.7L888.2 1022.9L890.8 1020.2L893.3 1017.4L895.9 1014.7L898.5 1011.9L901.1 1009.2L903.6 1006.4L906.2 1003.7L908.8 1001L911.4 998.3L913.9 995.6L916.5 992.9L919.1 990.3L921.7 987.6L924.2 985L926.8 982.4L929.4 979.7L931.9 977.1L934.5 974.5L937.1 972L939.7 969.4L942.2 966.9L944.8 964.3L947.4 961.8L950 959.3L952.5 956.8L955.1 954.3L957.7 951.9L960.3 949.5L962.8 947.1L965.4 944.7L968 942.3L970.6 940L973.1 937.7L975.7 935.4L978.3 933.2L980.8 931L983.4 928.9L986 926.7L988.6 924.7L991.1 922.6L993.7 920.6L996.3 918.6L998.9 916.7L1001.4 914.9L1004 913L1006.6 911.3L1009.2 909.6L1011.7 907.9L1014.3 906.3L1016.9 904.7L1019.5 903.1L1022 901.6L1024.6 900.2L1027.2 898.7L1029.8 897.4L1032.3 896L1034.9 894.7L1037.5 893.4L1040 892.1L1042.6 890.9L1045.2 889.7L1047.8 888.5L1050.3 887.4L1052.9 886.3L1055.5 885.2L1058.1 884.2L1060.6 883.3L1063.2 882.4L1065.8 881.5L1068.4 880.7L1070.9 880L1073.5 879.3L1076.1 878.7L1078.7 878.2L1081.2 877.7L1083.8 877.3L1086.4 876.9L1088.9 876.5L1091.5 876.2L1094.1 875.9L1096.7 875.6L1099.2 875.4L1101.8 875.1L1104.4 874.9L1107 874.8L1109.5 874.6L1112.1 874.5L1114.7 874.4L1117.3 874.4L1119.8 874.4L1122.4 874.5L1125 874.7L1127.6 874.9L1130.1 875.2L1132.7 875.5L1135.3 875.8L1137.9 876.2L1140.4 876.6L1143 877L1145.6 877.4L1148.1 877.8L1150.7 878.3L1153.3 878.8L1155.9 879.4L1158.4 880L1161 880.6L1163.6 881.3L1166.2 882.1L1168.7 882.9L1171.3 883.8L1173.9 884.7L1176.5 885.7L1179 886.8L1181.6 887.9L1184.2 889.2L1186.8 890.4L1189.3 891.7L1191.9 893.1L1194.5 894.6L1197 896.1L1199.6 897.6L1202.2 899.2L1204.8 900.9L1207.3 902.6L1209.9 904.4L1212.5 906.2L1215.1 908.1L1217.6 910L1220.2 912L1222.8 914L1225.4 916.1L1227.9 918.2L1230.5 920.4L1233.1 922.7L1235.7 925L1238.2 927.4L1240.8 929.8L1243.4 932.2L1246 934.7L1248.5 937.2L1251.1 939.8L1253.7 942.3L1256.2 944.9L1258.8 947.5L1261.4 950.1L1264 952.7L1266.5 955.3L1269.1 957.8L1271.7 960.4L1274.3 962.9L1276.8 965.5L1279.4 968L1282 970.5L1284.6 973L1287.1 975.5L1289.7 978L1292.3 980.5L1294.9 983L1297.4 985.5L1300 988" stroke-dasharray="7.6 5.9" stroke-dashoffset="13.42"/>
<path d="M645.6 1365L646.9 1355.7L648.2 1346.6L649.5 1337.9L650.8 1329.5L652.1 1321.4L653.5 1313.7L654.8 1306.3L656.1 1299.1L657.4 1292.1L658.7 1285.3L660 1279L661.3 1273.2L662.6 1268L663.9 1263.3L665.2 1259L666.5 1255.5L667.8 1252.7L669.2 1250.4L670.5 1248.5L671.8 1247L673.1 1245.7L674.4 1244.7L675.7 1243.7L677 1242.8L678.3 1242L679.6 1241.2L680.9 1240.5L682.2 1239.8L683.6 1239.1L684.9 1238.5L687.4 1237.3L690 1236L692.6 1234.6L695.2 1233.2L697.7 1231.7L700.3 1230.3L702.9 1228.8L705.5 1227.4L708 1226L710.6 1224.7L713.2 1223.5L715.7 1222.3L718.3 1221.1L720.9 1220.1L723.5 1219L726 1218L728.6 1217L731.2 1216L733.8 1214.9L736.3 1213.9L738.9 1212.9L741.5 1211.8L744.1 1210.7L746.6 1209.5L749.2 1208.3L751.8 1207L754.4 1205.7L756.9 1204.3L759.5 1202.9L762.1 1201.4L764.7 1199.9L767.2 1198.4L769.8 1196.8L772.4 1195.1L774.9 1193.4L777.5 1191.7L780.1 1189.9L782.7 1188.1L785.2 1186.3L787.8 1184.4L790.4 1182.6L793 1180.7L795.5 1178.8L798.1 1176.9L800.7 1175L803.3 1173.2L805.8 1171.4L808.4 1169.6L811 1167.8L813.6 1166L816.1 1164.3L818.7 1162.7L821.3 1161L823.8 1159.4L826.4 1157.7L829 1156.1L831.6 1154.5L834.1 1152.9L836.7 1151.3L839.3 1149.7L841.9 1148L844.4 1146.4L847 1144.7L849.6 1143.1L852.2 1141.4L854.7 1139.7L857.3 1138L859.9 1136.3L862.5 1134.5L865 1132.7L867.6 1131L870.2 1129.2L872.8 1127.3L875.3 1125.5L877.9 1123.7L880.5 1121.8L883 1119.9L885.6 1118L888.2 1116.2L890.8 1114.3L893.3 1112.5L895.9 1110.6L898.5 1108.9L901.1 1107.1L903.6 1105.4L906.2 1103.7L908.8 1102.1L911.4 1100.6L913.9 1099L916.5 1097.6L919.1 1096.2L921.7 1094.8L924.2 1093.4L926.8 1092.1L929.4 1090.8L931.9 1089.5L934.5 1088.2L937.1 1087L939.7 1085.7L942.2 1084.4L944.8 1083.2L947.4 1082L950 1080.7L952.5 1079.5L955.1 1078.4L957.7 1077.2L960.3 1076.1L962.8 1075.1L965.4 1074.1L968 1073.1L970.6 1072.2L973.1 1071.4L975.7 1070.7L978.3 1070L980.8 1069.3L983.4 1068.8L986 1068.2L988.6 1067.7L991.1 1067.2L993.7 1066.7L996.3 1066.3L998.9 1065.8L1001.4 1065.3L1004 1064.8L1006.6 1064.3L1009.2 1063.7L1011.7 1063.2L1014.3 1062.7L1016.9 1062.3L1019.5 1062L1022 1061.9L1024.6 1061.9L1027.2 1062.1L1029.8 1062.3L1032.3 1062.7L1034.9 1063.2L1037.5 1063.8L1040 1064.5L1042.6 1065.2L1045.2 1066.1L1047.8 1067L1050.3 1067.9L1052.9 1069L1055.5 1070.1L1058.1 1071.3L1060.6 1072.5L1063.2 1073.8L1065.8 1075.1L1068.4 1076.5L1070.9 1078L1073.5 1079.5L1076.1 1081L1078.7 1082.6L1081.2 1084.2L1083.8 1085.9L1086.4 1087.6L1088.9 1089.4L1091.5 1091.2L1094.1 1093L1096.7 1094.8L1099.2 1096.7L1101.8 1098.6L1104.4 1100.5L1107 1102.5L1109.5 1104.5L1112.1 1106.5L1114.7 1108.6L1117.3 1110.7L1119.8 1112.8L1122.4 1115L1125 1117.3L1127.6 1119.6L1130.1 1121.9L1132.7 1124.4L1135.3 1126.9L1137.9 1129.5L1140.4 1132.1L1143 1134.8L1145.6 1137.6L1148.1 1140.4L1150.7 1143.3L1153.3 1146.2L1155.9 1149.1L1158.4 1152L1161 1154.9L1163.6 1157.8L1166.2 1160.7L1168.7 1163.6L1171.3 1166.4L1173.9 1169.2L1176.5 1172L1179 1174.8L1181.6 1177.5L1184.2 1180.2L1186.8 1182.8L1189.3 1185.5L1191.9 1188.1L1194.5 1190.7L1197 1193.3L1199.6 1195.8L1202.2 1198.3L1204.8 1200.9L1207.3 1203.3L1209.9 1205.8L1212.5 1208.2L1215.1 1210.6L1217.6 1212.8L1220.2 1215.1L1222.8 1217.2L1225.4 1219.3L1227.9 1221.3L1230.5 1223.2L1233.1 1225L1235.7 1226.7L1238.2 1228.3L1240.8 1229.8L1243.4 1231.1L1246 1232.4L1248.5 1233.6L1251.1 1234.7L1253.7 1235.7L1256.2 1236.7L1258.8 1237.5L1261.4 1238.3L1264 1239.1L1266.5 1239.8L1269.1 1240.5L1271.7 1241.1L1274.3 1241.7L1276.8 1242.2L1279.4 1242.7L1282 1243.2L1284.6 1243.6L1287.1 1244.1L1289.7 1244.5L1292.3 1244.9L1294.9 1245.2L1297.4 1245.6L1300 1246" stroke-dasharray="2.6 6" stroke-width="1.9"/>
<path d="M684.9 1238.5L687.4 1237.2L690 1235.9L692.6 1234.6L695.2 1233.2L697.7 1231.8L700.3 1230.4L702.9 1229L705.5 1227.6L708 1226.2L710.6 1224.7L713.2 1223.3L715.7 1221.8L718.3 1220.4L720.9 1218.9L723.5 1217.4L726 1215.8L728.6 1214.3L731.2 1212.8L733.8 1211.2L736.3 1209.6L738.9 1208L741.5 1206.4L744.1 1204.8L746.6 1203.2L749.2 1201.5L751.8 1199.9L754.4 1198.2L756.9 1196.5L759.5 1194.7L762.1 1193L764.7 1191.2L767.2 1189.4L769.8 1187.6L772.4 1185.8L774.9 1183.9L777.5 1182L780.1 1180.1L782.7 1178.2L785.2 1176.2L787.8 1174.2L790.4 1172.2L793 1170.1L795.5 1168L798.1 1165.9L800.7 1163.8L803.3 1161.6L805.8 1159.4L808.4 1157.1L811 1154.8L813.6 1152.5L816.1 1150.2L818.7 1147.8L821.3 1145.5L823.8 1143.1L826.4 1140.7L829 1138.4L831.6 1136.1L834.1 1133.8L836.7 1131.5L839.3 1129.2L841.9 1127L844.4 1124.9L847 1122.8L849.6 1120.7L852.2 1118.7L854.7 1116.7L857.3 1114.7L859.9 1112.7L862.5 1110.7L865 1108.7L867.6 1106.7L870.2 1104.6L872.8 1102.5L875.3 1100.4L877.9 1098.3L880.5 1096.1L883 1093.9L885.6 1091.7L888.2 1089.4L890.8 1087.2L893.3 1084.9L895.9 1082.7L898.5 1080.5L901.1 1078.2L903.6 1076.1L906.2 1073.9L908.8 1071.8L911.4 1069.8L913.9 1067.8L916.5 1065.8L919.1 1063.8L921.7 1061.9L924.2 1059.9L926.8 1058L929.4 1056L931.9 1054L934.5 1052L937.1 1049.9L939.7 1047.8L942.2 1045.7L944.8 1043.5L947.4 1041.3L950 1039.1L952.5 1036.9L955.1 1034.7L957.7 1032.6L960.3 1030.5L962.8 1028.4L965.4 1026.5L968 1024.6L970.6 1022.9L973.1 1021.3L975.7 1019.8L978.3 1018.5L980.8 1017.3L983.4 1016.1L986 1015.1L988.6 1014.1L991.1 1013.2L993.7 1012.4L996.3 1011.6L998.9 1010.9L1001.4 1010.1L1004 1009.4L1006.6 1008.7L1009.2 1008L1011.7 1007.2L1014.3 1006.5L1016.9 1005.8L1019.5 1005.1L1022 1004.4L1024.6 1003.8L1027.2 1003.1L1029.8 1002.6L1032.3 1002L1034.9 1001.5L1037.5 1001.1L1040 1000.8L1042.6 1000.5L1045.2 1000.2L1047.8 1000L1050.3 999.9L1052.9 999.9L1055.5 999.9L1058.1 999.9L1060.6 1000L1063.2 1000.2L1065.8 1000.4L1068.4 1000.7L1070.9 1001L1073.5 1001.3L1076.1 1001.7L1078.7 1002.2L1081.2 1002.7L1083.8 1003.3L1086.4 1004L1088.9 1004.8L1091.5 1005.8L1094.1 1006.8L1096.7 1008L1099.2 1009.3L1101.8 1010.8L1104.4 1012.5L1107 1014.3L1109.5 1016.3L1112.1 1018.4L1114.7 1020.7L1117.3 1023.1L1119.8 1025.7L1122.4 1028.3L1125 1031L1127.6 1033.8L1130.1 1036.7L1132.7 1039.7L1135.3 1042.7L1137.9 1045.7L1140.4 1048.8L1143 1051.9L1145.6 1055.1L1148.1 1058.4L1150.7 1061.8L1153.3 1065.3L1155.9 1068.9L1158.4 1072.7L1161 1076.6L1163.6 1080.7L1166.2 1084.9L1168.7 1089.3L1171.3 1094L1173.9 1098.8L1176.5 1103.7L1179 1108.8L1181.6 1114.1L1184.2 1119.3L1186.8 1124.7L1189.3 1130.1L1191.9 1135.5L1194.5 1140.9L1197 1146.2L1199.6 1151.5L1202.2 1156.7L1204.8 1161.8L1207.3 1166.8L1209.9 1171.6L1212.5 1176.3L1215.1 1180.9L1217.6 1185.3L1220.2 1189.5L1222.8 1193.6L1225.4 1197.5L1227.9 1201.3L1230.5 1204.8L1233.1 1208.2L1235.7 1211.3L1238.2 1214.3L1240.8 1217L1243.4 1219.6L1246 1221.9L1248.5 1224.2L1251.1 1226.2L1253.7 1228.1L1256.2 1229.9L1258.8 1231.5L1261.4 1233L1264 1234.4L1266.5 1235.7L1269.1 1236.8L1271.7 1237.9L1274.3 1238.9L1276.8 1239.8L1279.4 1240.7L1282 1241.5L1284.6 1242.2L1287.1 1242.9L1289.7 1243.6L1292.3 1244.2L1294.9 1244.8L1297.4 1245.4L1300 1246" stroke-dasharray="2.6 6" stroke-width="1.9" stroke-dashoffset="8.35"/>
<path d="M684.9 1238.5L687.4 1237.2L690 1235.9L692.6 1234.6L695.2 1233.2L697.7 1231.9L700.3 1230.6L702.9 1229.2L705.5 1227.8L708 1226.3L710.6 1224.8L713.2 1223.2L715.7 1221.5L718.3 1219.8L720.9 1218L723.5 1216.2L726 1214.3L728.6 1212.4L731.2 1210.5L733.8 1208.5L736.3 1206.6L738.9 1204.6L741.5 1202.7L744.1 1200.8L746.6 1198.9L749.2 1197L751.8 1195.1L754.4 1193.2L756.9 1191.4L759.5 1189.5L762.1 1187.6L764.7 1185.8L767.2 1183.9L769.8 1182L772.4 1180.1L774.9 1178.2L777.5 1176.2L780.1 1174.2L782.7 1172.2L785.2 1170.2L787.8 1168.1L790.4 1166L793 1163.9L795.5 1161.6L798.1 1159.4L800.7 1157.1L803.3 1154.7L805.8 1152.3L808.4 1149.8L811 1147.2L813.6 1144.6L816.1 1141.9L818.7 1139.2L821.3 1136.4L823.8 1133.6L826.4 1130.8L829 1128L831.6 1125.2L834.1 1122.3L836.7 1119.6L839.3 1116.8L841.9 1114.1L844.4 1111.4L847 1108.7L849.6 1106.1L852.2 1103.5L854.7 1101L857.3 1098.5L859.9 1095.9L862.5 1093.4L865 1090.9L867.6 1088.4L870.2 1085.9L872.8 1083.4L875.3 1080.8L877.9 1078.3L880.5 1075.7L883 1073.1L885.6 1070.5L888.2 1067.9L890.8 1065.3L893.3 1062.7L895.9 1060.2L898.5 1057.6L901.1 1055.1L903.6 1052.6L906.2 1050.1L908.8 1047.7L911.4 1045.3L913.9 1042.9L916.5 1040.6L919.1 1038.2L921.7 1036L924.2 1033.7L926.8 1031.4L929.4 1029.2L931.9 1027L934.5 1024.8L937.1 1022.6L939.7 1020.4L942.2 1018.1L944.8 1015.9L947.4 1013.7L950 1011.5L952.5 1009.4L955.1 1007.2L957.7 1005L960.3 1002.9L962.8 1000.8L965.4 998.7L968 996.7L970.6 994.7L973.1 992.8L975.7 990.8L978.3 989L980.8 987.1L983.4 985.4L986 983.6L988.6 981.9L991.1 980.3L993.7 978.7L996.3 977.2L998.9 975.7L1001.4 974.2L1004 972.8L1006.6 971.4L1009.2 970.1L1011.7 968.9L1014.3 967.7L1016.9 966.5L1019.5 965.3L1022 964.2L1024.6 963.2L1027.2 962.1L1029.8 961.1L1032.3 960.2L1034.9 959.2L1037.5 958.3L1040 957.4L1042.6 956.5L1045.2 955.6L1047.8 954.8L1050.3 954L1052.9 953.2L1055.5 952.5L1058.1 951.8L1060.6 951.2L1063.2 950.5L1065.8 950L1068.4 949.5L1070.9 949L1073.5 948.6L1076.1 948.2L1078.7 947.9L1081.2 947.6L1083.8 947.4L1086.4 947.1L1088.9 946.9L1091.5 946.7L1094.1 946.5L1096.7 946.3L1099.2 946L1101.8 945.8L1104.4 945.5L1107 945.3L1109.5 945.3L1112.1 945.4L1114.7 945.6L1117.3 946L1119.8 946.6L1122.4 947.2L1125 947.9L1127.6 948.7L1130.1 949.6L1132.7 950.6L1135.3 951.6L1137.9 952.6L1140.4 953.6L1143 954.8L1145.6 955.9L1148.1 957.2L1150.7 958.5L1153.3 960L1155.9 961.6L1158.4 963.3L1161 965.1L1163.6 967.1L1166.2 969.3L1168.7 971.6L1171.3 974.2L1173.9 977L1176.5 980L1179 983.2L1181.6 986.7L1184.2 990.5L1186.8 994.7L1189.3 999.1L1191.9 1003.9L1194.5 1009.1L1197 1014.6L1199.6 1020.5L1202.2 1026.9L1204.8 1033.7L1207.3 1040.9L1209.9 1048.4L1212.5 1056.3L1215.1 1064.5L1217.6 1072.9L1220.2 1081.6L1222.8 1090.5L1225.4 1099.6L1227.9 1108.8L1230.5 1118.2L1233.1 1127.6L1235.7 1137L1238.2 1146.4L1240.8 1155.7L1243.4 1164.7L1246 1173.2L1248.5 1181.2L1251.1 1188.5L1253.7 1195L1256.2 1200.8L1258.8 1206L1261.4 1210.7L1264 1214.9L1266.5 1218.9L1269.1 1222.7L1271.7 1226.2L1274.3 1229.5L1276.8 1232.5L1279.4 1235.3L1282 1237.7L1284.6 1239.7L1287.1 1241.3L1289.7 1242.6L1292.3 1243.7L1294.9 1244.6L1297.4 1245.3L1300 1246" stroke-dasharray="2.6 6" stroke-width="1.9" stroke-dashoffset="8.36"/>
<path d="M684.9 1238.5L687.4 1237.2L690 1235.9L692.6 1234.6L695.2 1233.3L697.7 1231.9L700.3 1230.6L702.9 1229.2L705.5 1227.8L708 1226.3L710.6 1224.8L713.2 1223.1L715.7 1221.4L718.3 1219.6L720.9 1217.7L723.5 1215.7L726 1213.8L728.6 1211.7L731.2 1209.7L733.8 1207.6L736.3 1205.5L738.9 1203.5L741.5 1201.4L744.1 1199.4L746.6 1197.4L749.2 1195.4L751.8 1193.4L754.4 1191.5L756.9 1189.6L759.5 1187.6L762.1 1185.7L764.7 1183.8L767.2 1181.9L769.8 1179.9L772.4 1178L774.9 1176L777.5 1174L780.1 1171.9L782.7 1169.9L785.2 1167.8L787.8 1165.6L790.4 1163.4L793 1161.2L795.5 1158.9L798.1 1156.6L800.7 1154.2L803.3 1151.8L805.8 1149.3L808.4 1146.8L811 1144.2L813.6 1141.6L816.1 1138.9L818.7 1136.2L821.3 1133.4L823.8 1130.7L826.4 1127.9L829 1125.1L831.6 1122.4L834.1 1119.6L836.7 1116.9L839.3 1114.2L841.9 1111.6L844.4 1108.9L847 1106.4L849.6 1103.8L852.2 1101.3L854.7 1098.8L857.3 1096.4L859.9 1093.9L862.5 1091.4L865 1089L867.6 1086.5L870.2 1083.9L872.8 1081.4L875.3 1078.8L877.9 1076.2L880.5 1073.5L883 1070.8L885.6 1068.1L888.2 1065.4L890.8 1062.7L893.3 1060L895.9 1057.3L898.5 1054.6L901.1 1051.9L903.6 1049.3L906.2 1046.7L908.8 1044.1L911.4 1041.6L913.9 1039.1L916.5 1036.6L919.1 1034.2L921.7 1031.8L924.2 1029.4L926.8 1027.1L929.4 1024.7L931.9 1022.4L934.5 1020.1L937.1 1017.7L939.7 1015.4L942.2 1013L944.8 1010.7L947.4 1008.3L950 1005.9L952.5 1003.6L955.1 1001.3L957.7 998.9L960.3 996.7L962.8 994.4L965.4 992.2L968 990L970.6 987.8L973.1 985.7L975.7 983.7L978.3 981.7L980.8 979.8L983.4 977.9L986 976L988.6 974.2L991.1 972.4L993.7 970.7L996.3 969L998.9 967.3L1001.4 965.6L1004 964L1006.6 962.3L1009.2 960.7L1011.7 959.1L1014.3 957.5L1016.9 956L1019.5 954.5L1022 952.9L1024.6 951.5L1027.2 950L1029.8 948.6L1032.3 947.1L1034.9 945.8L1037.5 944.4L1040 943.1L1042.6 941.8L1045.2 940.5L1047.8 939.3L1050.3 938L1052.9 936.9L1055.5 935.7L1058.1 934.5L1060.6 933.4L1063.2 932.3L1065.8 931.2L1068.4 930.1L1070.9 929L1073.5 927.9L1076.1 926.9L1078.7 925.9L1081.2 924.9L1083.8 923.9L1086.4 923L1088.9 922.1L1091.5 921.2L1094.1 920.4L1096.7 919.7L1099.2 919L1101.8 918.4L1104.4 917.9L1107 917.4L1109.5 917L1112.1 916.6L1114.7 916.4L1117.3 916.1L1119.8 915.9L1122.4 915.7L1125 915.6L1127.6 915.4L1130.1 915.3L1132.7 915.2L1135.3 915.1L1137.9 914.9L1140.4 914.8L1143 914.6L1145.6 914.5L1148.1 914.4L1150.7 914.4L1153.3 914.4L1155.9 914.5L1158.4 914.7L1161 914.9L1163.6 915.2L1166.2 915.5L1168.7 915.9L1171.3 916.4L1173.9 917L1176.5 917.6L1179 918.3L1181.6 919.1L1184.2 919.9L1186.8 920.9L1189.3 921.9L1191.9 923L1194.5 924.2L1197 925.4L1199.6 926.8L1202.2 928.2L1204.8 929.7L1207.3 931.3L1209.9 933L1212.5 934.6L1215.1 936.3L1217.6 938L1220.2 939.7L1222.8 941.4L1225.4 943L1227.9 944.5L1230.5 945.9L1233.1 947.3L1235.7 948.5L1238.2 949.6L1240.8 950.7L1243.4 951.9L1246 953.2L1248.5 954.8L1251.1 956.6L1253.7 958.8L1256.2 961.5L1258.8 964.7L1261.4 968.5L1264 973L1266.5 978.3L1269.1 984.5L1271.7 991.8L1274.3 1000.6L1276.8 1011.4L1279.4 1024.5L1282 1040.2L1284.6 1058.5L1287.1 1079L1289.7 1101.4L1292.3 1125.2L1294.9 1150.2L1297.4 1175.9L1300 1202" stroke-dasharray="2.6 6" stroke-width="1.9" stroke-dashoffset="2.96"/>
<path d="M684.9 1238.5L687.4 1237.2L690 1235.9L692.6 1234.6L695.2 1233.3L697.7 1231.9L700.3 1230.6L702.9 1229.2L705.5 1227.8L708 1226.3L710.6 1224.8L713.2 1223.1L715.7 1221.4L718.3 1219.6L720.9 1217.7L723.5 1215.7L726 1213.8L728.6 1211.7L731.2 1209.7L733.8 1207.6L736.3 1205.5L738.9 1203.5L741.5 1201.4L744.1 1199.4L746.6 1197.4L749.2 1195.4L751.8 1193.4L754.4 1191.5L756.9 1189.6L759.5 1187.6L762.1 1185.7L764.7 1183.8L767.2 1181.9L769.8 1179.9L772.4 1178L774.9 1176L777.5 1174L780.1 1171.9L782.7 1169.9L785.2 1167.8L787.8 1165.6L790.4 1163.4L793 1161.2L795.5 1158.9L798.1 1156.6L800.7 1154.2L803.3 1151.8L805.8 1149.3L808.4 1146.8L811 1144.2L813.6 1141.6L816.1 1138.9L818.7 1136.2L821.3 1133.4L823.8 1130.7L826.4 1127.9L829 1125.1L831.6 1122.4L834.1 1119.6L836.7 1116.9L839.3 1114.2L841.9 1111.6L844.4 1108.9L847 1106.4L849.6 1103.8L852.2 1101.3L854.7 1098.8L857.3 1096.4L859.9 1093.9L862.5 1091.4L865 1089L867.6 1086.5L870.2 1083.9L872.8 1081.4L875.3 1078.8L877.9 1076.2L880.5 1073.5L883 1070.8L885.6 1068.1L888.2 1065.4L890.8 1062.7L893.3 1060L895.9 1057.3L898.5 1054.6L901.1 1051.9L903.6 1049.3L906.2 1046.7L908.8 1044.1L911.4 1041.6L913.9 1039.1L916.5 1036.6L919.1 1034.2L921.7 1031.8L924.2 1029.4L926.8 1027.1L929.4 1024.7L931.9 1022.4L934.5 1020.1L937.1 1017.7L939.7 1015.4L942.2 1013L944.8 1010.7L947.4 1008.3L950 1005.9L952.5 1003.6L955.1 1001.3L957.7 998.9L960.3 996.7L962.8 994.4L965.4 992.2L968 990L970.6 987.8L973.1 985.7L975.7 983.7L978.3 981.7L980.8 979.8L983.4 977.9L986 976L988.6 974.2L991.1 972.4L993.7 970.7L996.3 969L998.9 967.3L1001.4 965.6L1004 964L1006.6 962.3L1009.2 960.7L1011.7 959.1L1014.3 957.5L1016.9 956L1019.5 954.5L1022 952.9L1024.6 951.5L1027.2 950L1029.8 948.6L1032.3 947.1L1034.9 945.8L1037.5 944.4L1040 943.1L1042.6 941.8L1045.2 940.5L1047.8 939.3L1050.3 938L1052.9 936.9L1055.5 935.7L1058.1 934.5L1060.6 933.4L1063.2 932.3L1065.8 931.2L1068.4 930.1L1070.9 929L1073.5 927.9L1076.1 926.9L1078.7 925.9L1081.2 924.9L1083.8 923.9L1086.4 923L1088.9 922.1L1091.5 921.2L1094.1 920.4L1096.7 919.7L1099.2 919L1101.8 918.4L1104.4 917.9L1107 917.4L1109.5 917L1112.1 916.6L1114.7 916.4L1117.3 916.1L1119.8 915.9L1122.4 915.7L1125 915.6L1127.6 915.4L1130.1 915.3L1132.7 915.2L1135.3 915.1L1137.9 914.9L1140.4 914.8L1143 914.6L1145.6 914.5L1148.1 914.4L1150.7 914.4L1153.3 914.4L1155.9 914.5L1158.4 914.6L1161 914.8L1163.6 915.1L1166.2 915.5L1168.7 915.9L1171.3 916.5L1173.9 917.1L1176.5 917.8L1179 918.5L1181.6 919.4L1184.2 920.3L1186.8 921.3L1189.3 922.3L1191.9 923.4L1194.5 924.5L1197 925.7L1199.6 926.9L1202.2 928.2L1204.8 929.5L1207.3 930.8L1209.9 932.1L1212.5 933.5L1215.1 934.9L1217.6 936.3L1220.2 937.7L1222.8 939.2L1225.4 940.6L1227.9 942.1L1230.5 943.6L1233.1 945.1L1235.7 946.6L1238.2 948.2L1240.8 949.7L1243.4 951.3L1246 952.9L1248.5 954.5L1251.1 956.2L1253.7 957.9L1256.2 959.7L1258.8 961.5L1261.4 963.4L1264 965.4L1266.5 967.4L1269.1 969.5L1271.7 971.7L1274.3 974L1276.8 976.3L1279.4 978.7L1282 981.1L1284.6 983.6L1287.1 986.1L1289.7 988.6L1292.3 991.2L1294.9 993.8L1297.4 996.4L1300 999" stroke-dasharray="2.6 6" stroke-width="1.9" stroke-dashoffset="8.36"/>
</g>
<g fill="none" stroke="#000" stroke-width="2"><path d="M645.6 795.9 V1365 H1366.4" /><path d="M645.6 1365v12M711 1365v6.3M776.5 1365v12M841.9 1365v6.3M907.4 1365v12M972.8 1365v6.3M1038.2 1365v12M1103.7 1365v6.3M1169.1 1365v12M1234.6 1365v6.3M1300 1365v12M1365.4 1365v6.3M645.6 1365h-12M645.6 1327.1h-6.3M645.6 1289.2h-12M645.6 1251.4h-6.3M645.6 1213.5h-12M645.6 1175.6h-6.3M645.6 1137.8h-12M645.6 1099.9h-6.3M645.6 1062h-12M645.6 1024.1h-6.3M645.6 986.2h-12M645.6 948.4h-6.3M645.6 910.5h-12M645.6 872.6h-6.3M645.6 834.8h-12M645.6 796.9h-6.3"/></g>
<g class="tk"><text x="645.6" y="1403.2" text-anchor="middle">0.0</text><text x="776.5" y="1403.2" text-anchor="middle">0.2</text><text x="907.4" y="1403.2" text-anchor="middle">0.4</text><text x="1038.2" y="1403.2" text-anchor="middle">0.6</text><text x="1169.1" y="1403.2" text-anchor="middle">0.8</text><text x="1300" y="1403.2" text-anchor="middle">1.0</text><text x="625.6" y="1372.7" text-anchor="end">0.00</text><text x="625.6" y="1297" text-anchor="end">0.05</text><text x="625.6" y="1221.2" text-anchor="end">0.10</text><text x="625.6" y="1145.5" text-anchor="end">0.15</text><text x="625.6" y="1069.7" text-anchor="end">0.20</text><text x="625.6" y="994" text-anchor="end">0.25</text><text x="625.6" y="918.2" text-anchor="end">0.30</text><text x="625.6" y="842.5" text-anchor="end">0.35</text></g>
<path d="M995.7 1165.6L1123.1 822" fill="none" stroke="#000" stroke-width="1.7"/>
<path d="M1127.6 810L1126.4 825.3L1118.5 822.4Z" fill="#000"/>
<text class="an" x="907.2" y="1196">t= 0.5, 0.7, 1, 2, 3</text>
<text class="xl" x="1005.5" y="1448" text-anchor="middle">x</text>
<text class="cap" x="972" y="1563" text-anchor="middle">(c)</text>
<text class="yl" transform="translate(537.5 1080.2) rotate(-90)">&#964;</text>
<text class="sub" transform="translate(547.7 1066.9) rotate(-90)">w</text>
<rect x="1286.5" y="809.7" width="190.5" height="114.7" fill="#fff" stroke="#4a4a4a" stroke-width="1"/>
<path d="M1299.6 835.5H1368.5" fill="none" stroke="#000" stroke-width="1.6"/>
<text class="lg" x="1376" y="845.8">m=0.5</text>
<path d="M1299.6 871.7H1364.3" fill="none" stroke="#000" stroke-width="1.6" stroke-dasharray="7.2 7"/>
<text class="lg" x="1376" y="882">m=1.0</text>
<path d="M1299.6 907.5H1368.5" fill="none" stroke="#000" stroke-dasharray="2.8 6" stroke-width="1.9"/>
<text class="lg" x="1376" y="917.8">m= 2.0</text>
</svg></body></html>
